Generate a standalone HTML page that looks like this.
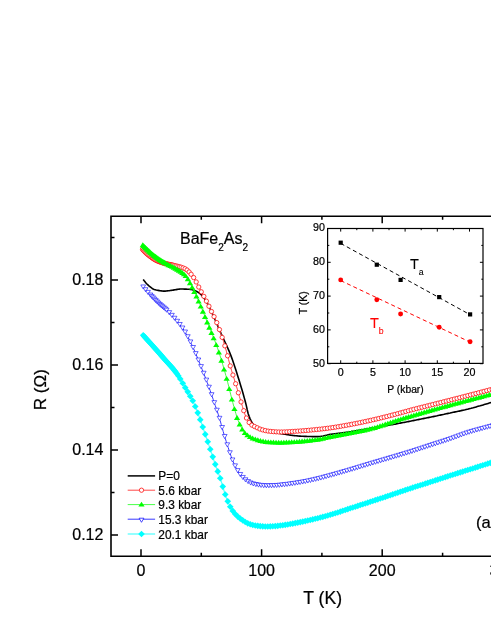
<!DOCTYPE html>
<html><head><meta charset="utf-8"><title>R(T) BaFe2As2</title>
<style>html,body{margin:0;padding:0;background:#fff;}body{width:491px;height:635px;overflow:hidden;position:relative;font-family:"Liberation Sans",sans-serif;}</style>
</head><body>
<svg width="491" height="635" viewBox="0 0 491 635" style="position:absolute;left:0;top:0;will-change:transform;">
<defs><clipPath id="c"><rect x="0" y="0" width="491" height="635"/></clipPath></defs>
<path d="M143.2,279.5 L144.2,280.8 L145.2,282.0 L146.2,283.2 L147.2,284.3 L148.2,285.2 L149.2,286.1 L150.2,286.9 L151.2,287.7 L152.2,288.5 L153.2,289.0 L154.2,289.4 L155.2,289.7 L156.2,290.0 L157.2,290.2 L158.2,290.4 L159.2,290.6 L160.2,290.8 L161.2,290.9 L162.2,291.0 L163.2,291.1 L164.2,291.1 L165.2,291.1 L166.2,291.0 L167.2,290.9 L168.2,290.8 L169.2,290.7 L170.2,290.5 L171.2,290.4 L172.2,290.3 L173.2,290.1 L174.2,289.9 L175.2,289.8 L176.2,289.6 L177.2,289.4 L178.2,289.2 L179.2,289.1 L180.2,289.0 L181.2,289.0 L182.2,289.0 L183.2,289.0 L184.2,289.1 L185.2,289.1 L186.2,289.1 L187.2,289.2 L188.2,289.3 L189.2,289.3 L190.2,289.4 L191.2,289.5 L192.2,289.7 L193.2,290.0 L194.2,290.3 L195.2,290.7 L196.2,291.2 L197.2,291.8 L198.2,292.4 L199.2,293.0 L200.2,293.8 L201.2,294.7 L202.2,295.9 L203.2,297.1 L204.2,298.4 L205.2,299.9 L206.2,301.5 L207.2,303.2 L208.2,305.0 L209.2,306.9 L210.2,309.0 L211.2,311.1 L212.2,313.3 L213.2,315.4 L214.2,317.6 L215.2,319.9 L216.2,322.2 L217.2,324.5 L218.2,326.9 L219.2,329.2 L220.2,331.6 L221.2,333.8 L222.2,336.1 L223.2,338.3 L224.2,340.4 L225.2,342.5 L226.2,344.7 L227.2,346.8 L228.2,349.1 L229.2,351.4 L230.2,353.8 L231.2,356.4 L232.2,359.1 L233.2,362.0 L234.2,364.9 L235.2,368.0 L236.2,371.1 L237.2,374.2 L238.2,377.4 L239.2,380.6 L240.2,383.9 L241.2,387.2 L242.2,390.5 L243.2,394.0 L244.2,397.6 L245.2,401.2 L246.2,405.1 L247.2,409.7 L248.2,413.8 L249.2,416.6 L250.2,419.1 L251.2,421.2 L252.2,423.0 L253.2,424.3 L254.2,425.3 L255.2,426.1 L256.2,426.8 L257.2,427.4 L258.2,427.9 L259.2,428.2 L260.2,428.5 L261.2,428.8 L262.2,429.1 L263.2,429.4 L264.2,429.7 L265.2,430.2 L266.2,430.6 L267.2,431.0 L268.2,431.3 L269.2,431.6 L270.2,431.8 L271.2,432.0 L272.2,432.1 L273.2,432.3 L274.2,432.5 L275.2,432.6 L276.2,432.8 L277.2,432.9 L278.2,433.1 L279.2,433.2 L280.2,433.4 L281.2,433.6 L282.2,433.8 L283.2,434.0 L284.2,434.1 L285.2,434.3 L286.2,434.5 L287.2,434.7 L288.2,434.8 L289.2,435.0 L290.2,435.1 L291.2,435.3 L292.2,435.4 L293.2,435.5 L294.2,435.6 L295.2,435.7 L296.2,435.8 L297.2,435.9 L298.2,436.0 L299.2,436.1 L300.2,436.1 L301.2,436.2 L302.2,436.3 L303.2,436.3 L304.2,436.4 L305.2,436.4 L306.2,436.4 L307.2,436.5 L308.2,436.5 L309.2,436.5 L310.2,436.5 L311.2,436.5 L312.2,436.6 L313.2,436.6 L314.2,436.6 L315.2,436.6 L316.2,436.6 L317.2,436.6 L318.2,436.6 L319.2,436.5 L320.2,436.5 L321.2,436.3 L322.2,436.2 L323.2,436.0 L324.2,435.7 L325.2,435.5 L326.2,435.3 L327.2,435.1 L328.2,434.8 L329.2,434.6 L330.2,434.4 L331.2,434.3 L332.2,434.1 L333.2,434.0 L334.2,433.8 L335.2,433.7 L336.2,433.6 L337.2,433.5 L338.2,433.3 L339.2,433.2 L340.2,433.1 L341.2,433.0 L342.2,432.8 L343.2,432.7 L344.2,432.6 L345.2,432.5 L346.2,432.3 L347.2,432.2 L348.2,432.0 L349.2,431.9 L350.2,431.7 L351.2,431.6 L352.2,431.4 L353.2,431.2 L354.2,431.1 L355.2,430.9 L356.2,430.7 L357.2,430.6 L358.2,430.4 L359.2,430.2 L360.2,430.0 L361.2,429.9 L362.2,429.7 L363.2,429.5 L364.2,429.4 L365.2,429.2 L366.2,429.0 L367.2,428.8 L368.2,428.7 L369.2,428.5 L370.2,428.3 L371.2,428.1 L372.2,428.0 L373.2,427.8 L374.2,427.6 L375.2,427.4 L376.2,427.3 L377.2,427.1 L378.2,426.9 L379.2,426.7 L380.2,426.6 L381.2,426.4 L382.2,426.2 L383.2,426.1 L384.2,425.9 L385.2,425.7 L386.2,425.6 L387.2,425.4 L388.2,425.3 L389.2,425.1 L390.2,424.9 L391.2,424.8 L392.2,424.6 L393.2,424.4 L394.2,424.2 L395.2,424.1 L396.2,423.9 L397.2,423.7 L398.2,423.5 L399.2,423.3 L400.2,423.1 L401.2,422.9 L402.2,422.7 L403.2,422.5 L404.2,422.4 L405.2,422.2 L406.2,422.0 L407.2,421.8 L408.2,421.6 L409.2,421.4 L410.2,421.2 L411.2,421.0 L412.2,420.8 L413.2,420.6 L414.2,420.4 L415.2,420.2 L416.2,420.0 L417.2,419.8 L418.2,419.6 L419.2,419.4 L420.2,419.2 L421.2,419.0 L422.2,418.8 L423.2,418.6 L424.2,418.4 L425.2,418.2 L426.2,418.0 L427.2,417.8 L428.2,417.6 L429.2,417.4 L430.2,417.2 L431.2,417.0 L432.2,416.8 L433.2,416.6 L434.2,416.4 L435.2,416.2 L436.2,416.0 L437.2,415.8 L438.2,415.5 L439.2,415.3 L440.2,415.1 L441.2,414.9 L442.2,414.7 L443.2,414.5 L444.2,414.3 L445.2,414.0 L446.2,413.8 L447.2,413.6 L448.2,413.4 L449.2,413.2 L450.2,413.0 L451.2,412.7 L452.2,412.5 L453.2,412.3 L454.2,412.1 L455.2,411.9 L456.2,411.7 L457.2,411.5 L458.2,411.3 L459.2,411.1 L460.2,410.9 L461.2,410.6 L462.2,410.4 L463.2,410.2 L464.2,410.0 L465.2,409.8 L466.2,409.5 L467.2,409.3 L468.2,409.1 L469.2,408.8 L470.2,408.5 L471.2,408.3 L472.2,408.0 L473.2,407.8 L474.2,407.5 L475.2,407.2 L476.2,406.9 L477.2,406.6 L478.2,406.3 L479.2,406.0 L480.2,405.8 L481.2,405.5 L482.2,405.2 L483.2,404.9 L484.2,404.6 L485.2,404.3 L486.2,404.0 L487.2,403.7 L488.2,403.4 L489.2,403.1 L490.2,402.8 L491.2,402.5 L492.2,402.3 L493.2,402.0 L494.2,401.7 L495.2,401.4 L496.2,401.1 L497.2,400.8 L498.2,400.6 L499.2,400.3 L500.2,400.0 L501.2,399.7 L502.2,399.4" fill="none" stroke="#000" stroke-width="1.6" stroke-linejoin="round"/>
<path d="M142.5,249.3 L143.5,250.4 L144.5,251.4 L145.5,252.4 L146.5,253.4 L147.5,254.3 L148.5,255.1 L149.5,255.9 L150.5,256.7 L151.5,257.4 L152.5,258.1 L153.5,258.8 L154.5,259.4 L155.5,260.0 L156.5,260.5 L157.5,260.9 L158.5,261.4 L159.5,261.8 L160.5,262.1 L161.5,262.5 L162.5,262.8 L163.5,263.1 L164.5,263.4 L165.5,263.6 L166.5,263.9 L167.5,264.1 L168.5,264.3 L169.5,264.5 L170.5,264.7 L171.5,264.9 L172.5,265.1 L173.5,265.3 L174.5,265.5 L175.5,265.8 L176.5,266.0 L177.5,266.3 L178.5,266.5 L179.5,266.8 L180.5,267.0 L181.5,267.3 L182.5,267.7 L183.5,268.0 L184.5,268.5 L185.5,269.0 L186.5,269.6 L187.5,270.4 L188.5,271.3 L189.5,272.4 L190.5,273.5 L191.5,274.8 L192.5,276.0 L193.5,277.3 L194.5,278.9 L195.5,280.6 L196.5,282.5 L197.5,284.5 L198.5,286.5 L199.5,288.5 L200.5,290.4 L201.5,292.2 L202.5,293.9 L203.5,295.7 L204.5,297.5 L205.5,299.4 L206.5,301.3 L207.5,303.3 L208.5,305.3 L209.5,307.4 L210.5,309.4 L211.5,311.5 L212.5,313.5 L213.5,315.5 L214.5,317.6 L215.5,319.7 L216.5,322.0 L217.5,324.5 L218.5,327.0 L219.5,329.7 L220.5,332.5 L221.5,335.4 L222.5,338.4 L223.5,341.5 L224.5,344.7 L225.5,348.1 L226.5,351.8 L227.5,355.6 L228.5,359.4 L229.5,363.2 L230.5,366.8 L231.5,370.2 L232.5,373.5 L233.5,376.8 L234.5,380.0 L235.5,383.3 L236.5,386.5 L237.5,389.9 L238.5,393.3 L239.5,396.7 L240.5,400.1 L241.5,403.4 L242.5,406.7 L243.5,409.9 L244.5,413.1 L245.5,416.0 L246.5,418.1 L247.5,419.9 L248.5,421.6 L249.5,423.0 L250.5,424.1 L251.5,424.9 L252.5,425.5 L253.5,426.0 L254.5,426.5 L255.5,426.9 L256.5,427.4 L257.5,427.9 L258.5,428.4 L259.5,428.8 L260.5,429.2 L261.5,429.5 L262.5,429.8 L263.5,430.1 L264.5,430.4 L265.5,430.6 L266.5,430.8 L267.5,431.0 L268.5,431.2 L269.5,431.3 L270.5,431.4 L271.5,431.5 L272.5,431.6 L273.5,431.7 L274.5,431.7 L275.5,431.8 L276.5,431.9 L277.5,431.9 L278.5,432.0 L279.5,432.0 L280.5,432.0 L281.5,432.0 L282.5,432.0 L283.5,432.0 L284.5,431.9 L285.5,431.9 L286.5,431.8 L287.5,431.8 L288.5,431.7 L289.5,431.7 L290.5,431.6 L291.5,431.5 L292.5,431.5 L293.5,431.4 L294.5,431.3 L295.5,431.3 L296.5,431.2 L297.5,431.1 L298.5,431.1 L299.5,431.0 L300.5,430.9 L301.5,430.9 L302.5,430.8 L303.5,430.7 L304.5,430.6 L305.5,430.5 L306.5,430.5 L307.5,430.4 L308.5,430.3 L309.5,430.2 L310.5,430.1 L311.5,430.0 L312.5,429.9 L313.5,429.8 L314.5,429.7 L315.5,429.6 L316.5,429.5 L317.5,429.4 L318.5,429.3 L319.5,429.2 L320.5,429.1 L321.5,429.0 L322.5,428.9 L323.5,428.8 L324.5,428.7 L325.5,428.5 L326.5,428.4 L327.5,428.3 L328.5,428.1 L329.5,428.0 L330.5,427.9 L331.5,427.7 L332.5,427.6 L333.5,427.4 L334.5,427.3 L335.5,427.1 L336.5,427.0 L337.5,426.8 L338.5,426.6 L339.5,426.5 L340.5,426.3 L341.5,426.1 L342.5,426.0 L343.5,425.8 L344.5,425.6 L345.5,425.4 L346.5,425.2 L347.5,425.1 L348.5,424.9 L349.5,424.7 L350.5,424.5 L351.5,424.3 L352.5,424.1 L353.5,423.9 L354.5,423.7 L355.5,423.5 L356.5,423.3 L357.5,423.1 L358.5,422.9 L359.5,422.7 L360.5,422.5 L361.5,422.3 L362.5,422.1 L363.5,421.9 L364.5,421.7 L365.5,421.5 L366.5,421.3 L367.5,421.0 L368.5,420.8 L369.5,420.6 L370.5,420.4 L371.5,420.1 L372.5,419.9 L373.5,419.7 L374.5,419.5 L375.5,419.2 L376.5,419.0 L377.5,418.8 L378.5,418.5 L379.5,418.3 L380.5,418.0 L381.5,417.8 L382.5,417.5 L383.5,417.3 L384.5,417.0 L385.5,416.8 L386.5,416.5 L387.5,416.3 L388.5,416.0 L389.5,415.8 L390.5,415.5 L391.5,415.3 L392.5,415.0 L393.5,414.7 L394.5,414.5 L395.5,414.2 L396.5,414.0 L397.5,413.7 L398.5,413.4 L399.5,413.2 L400.5,412.9 L401.5,412.6 L402.5,412.3 L403.5,412.0 L404.5,411.8 L405.5,411.5 L406.5,411.2 L407.5,410.9 L408.5,410.7 L409.5,410.4 L410.5,410.1 L411.5,409.9 L412.5,409.6 L413.5,409.4 L414.5,409.1 L415.5,408.8 L416.5,408.6 L417.5,408.3 L418.5,408.1 L419.5,407.8 L420.5,407.6 L421.5,407.3 L422.5,407.1 L423.5,406.8 L424.5,406.6 L425.5,406.3 L426.5,406.1 L427.5,405.8 L428.5,405.6 L429.5,405.3 L430.5,405.1 L431.5,404.8 L432.5,404.6 L433.5,404.3 L434.5,404.1 L435.5,403.8 L436.5,403.6 L437.5,403.3 L438.5,403.0 L439.5,402.8 L440.5,402.5 L441.5,402.3 L442.5,402.0 L443.5,401.8 L444.5,401.5 L445.5,401.3 L446.5,401.0 L447.5,400.8 L448.5,400.5 L449.5,400.3 L450.5,400.0 L451.5,399.8 L452.5,399.5 L453.5,399.2 L454.5,399.0 L455.5,398.7 L456.5,398.5 L457.5,398.2 L458.5,398.0 L459.5,397.7 L460.5,397.5 L461.5,397.2 L462.5,396.9 L463.5,396.7 L464.5,396.4 L465.5,396.2 L466.5,395.9 L467.5,395.6 L468.5,395.4 L469.5,395.1 L470.5,394.9 L471.5,394.6 L472.5,394.4 L473.5,394.1 L474.5,393.8 L475.5,393.6 L476.5,393.3 L477.5,393.0 L478.5,392.8 L479.5,392.5 L480.5,392.3 L481.5,392.0 L482.5,391.7 L483.5,391.5 L484.5,391.2 L485.5,390.9 L486.5,390.7 L487.5,390.4 L488.5,390.2 L489.5,389.9 L490.5,389.6 L491.5,389.4 L492.5,389.1 L493.5,388.8 L494.5,388.6 L495.5,388.3 L496.5,388.0 L497.5,387.8 L498.5,387.5 L499.5,387.2 L500.5,387.0 L501.5,386.7 L502.5,386.4" fill="none" stroke="#ff4848" stroke-width="1.0"/>
<g fill="#fff" stroke="#ff0000" stroke-width="0.75"><circle cx="142.50" cy="249.30" r="2.15"/><circle cx="143.40" cy="250.27" r="2.15"/><circle cx="144.30" cy="251.20" r="2.15"/><circle cx="145.20" cy="252.11" r="2.15"/><circle cx="146.10" cy="252.98" r="2.15"/><circle cx="147.00" cy="253.81" r="2.15"/><circle cx="147.90" cy="254.60" r="2.15"/><circle cx="148.80" cy="255.34" r="2.15"/><circle cx="149.70" cy="256.05" r="2.15"/><circle cx="150.60" cy="256.74" r="2.15"/><circle cx="151.50" cy="257.41" r="2.15"/><circle cx="152.40" cy="258.06" r="2.15"/><circle cx="153.30" cy="258.67" r="2.15"/><circle cx="154.20" cy="259.25" r="2.15"/><circle cx="155.10" cy="259.78" r="2.15"/><circle cx="156.00" cy="260.26" r="2.15"/><circle cx="156.90" cy="260.68" r="2.15"/><circle cx="157.80" cy="261.08" r="2.15"/><circle cx="158.70" cy="261.45" r="2.15"/><circle cx="159.60" cy="261.79" r="2.15"/><circle cx="160.50" cy="262.12" r="2.15"/><circle cx="161.40" cy="262.43" r="2.15"/><circle cx="162.30" cy="262.72" r="2.15"/><circle cx="163.20" cy="262.99" r="2.15"/><circle cx="164.10" cy="263.25" r="2.15"/><circle cx="165.00" cy="263.50" r="2.15"/><circle cx="165.90" cy="263.73" r="2.15"/><circle cx="166.80" cy="263.94" r="2.15"/><circle cx="167.70" cy="264.14" r="2.15"/><circle cx="168.60" cy="264.32" r="2.15"/><circle cx="169.50" cy="264.49" r="2.15"/><circle cx="170.40" cy="264.67" r="2.15"/><circle cx="171.30" cy="264.84" r="2.15"/><circle cx="172.20" cy="265.02" r="2.15"/><circle cx="173.10" cy="265.21" r="2.15"/><circle cx="174.70" cy="265.58" r="2.15"/><circle cx="176.30" cy="265.97" r="2.15"/><circle cx="177.90" cy="266.35" r="2.15"/><circle cx="179.50" cy="266.76" r="2.15"/><circle cx="181.10" cy="267.21" r="2.15"/><circle cx="183.10" cy="267.89" r="2.15"/><circle cx="185.10" cy="268.75" r="2.15"/><circle cx="187.10" cy="270.07" r="2.15"/><circle cx="189.10" cy="271.97" r="2.15"/><circle cx="191.10" cy="274.26" r="2.15"/><circle cx="193.65" cy="277.56" r="2.15"/><circle cx="196.20" cy="281.96" r="2.15"/><circle cx="198.75" cy="287.03" r="2.15"/><circle cx="201.30" cy="291.80" r="2.15"/><circle cx="203.85" cy="296.34" r="2.15"/><circle cx="206.40" cy="301.13" r="2.15"/><circle cx="208.95" cy="306.25" r="2.15"/><circle cx="211.50" cy="311.50" r="2.15"/><circle cx="214.05" cy="316.65" r="2.15"/><circle cx="216.75" cy="322.60" r="2.15"/><circle cx="219.45" cy="329.58" r="2.15"/><circle cx="222.15" cy="337.37" r="2.15"/><circle cx="224.85" cy="345.88" r="2.15"/><circle cx="227.55" cy="355.79" r="2.15"/><circle cx="230.25" cy="365.92" r="2.15"/><circle cx="232.95" cy="375.01" r="2.15"/><circle cx="235.65" cy="383.75" r="2.15"/><circle cx="238.35" cy="392.77" r="2.15"/><circle cx="241.05" cy="401.93" r="2.15"/><circle cx="243.75" cy="410.68" r="2.15"/><circle cx="246.45" cy="418.00" r="2.15"/><circle cx="249.15" cy="422.51" r="2.15"/><circle cx="251.85" cy="425.09" r="2.15"/><circle cx="254.55" cy="426.52" r="2.15"/><circle cx="257.25" cy="427.77" r="2.15"/><circle cx="259.95" cy="429.03" r="2.15"/><circle cx="262.65" cy="429.89" r="2.15"/><circle cx="265.35" cy="430.59" r="2.15"/><circle cx="268.05" cy="431.09" r="2.15"/><circle cx="270.75" cy="431.40" r="2.15"/><circle cx="273.45" cy="431.66" r="2.15"/><circle cx="276.15" cy="431.86" r="2.15"/><circle cx="278.85" cy="431.98" r="2.15"/><circle cx="281.55" cy="431.99" r="2.15"/><circle cx="284.25" cy="431.93" r="2.15"/><circle cx="286.95" cy="431.80" r="2.15"/><circle cx="289.65" cy="431.64" r="2.15"/><circle cx="292.35" cy="431.47" r="2.15"/><circle cx="295.05" cy="431.30" r="2.15"/><circle cx="297.75" cy="431.13" r="2.15"/><circle cx="300.45" cy="430.94" r="2.15"/><circle cx="303.15" cy="430.73" r="2.15"/><circle cx="305.85" cy="430.51" r="2.15"/><circle cx="308.55" cy="430.28" r="2.15"/><circle cx="311.25" cy="430.03" r="2.15"/><circle cx="313.95" cy="429.78" r="2.15"/><circle cx="316.65" cy="429.51" r="2.15"/><circle cx="319.35" cy="429.24" r="2.15"/><circle cx="322.05" cy="428.94" r="2.15"/><circle cx="324.75" cy="428.62" r="2.15"/><circle cx="327.45" cy="428.28" r="2.15"/><circle cx="330.15" cy="427.92" r="2.15"/><circle cx="332.85" cy="427.53" r="2.15"/><circle cx="335.55" cy="427.12" r="2.15"/><circle cx="338.25" cy="426.69" r="2.15"/><circle cx="340.95" cy="426.23" r="2.15"/><circle cx="343.65" cy="425.76" r="2.15"/><circle cx="346.35" cy="425.27" r="2.15"/><circle cx="349.05" cy="424.78" r="2.15"/><circle cx="351.75" cy="424.27" r="2.15"/><circle cx="354.45" cy="423.75" r="2.15"/><circle cx="357.15" cy="423.22" r="2.15"/><circle cx="359.85" cy="422.67" r="2.15"/><circle cx="362.55" cy="422.10" r="2.15"/><circle cx="365.25" cy="421.52" r="2.15"/><circle cx="367.95" cy="420.93" r="2.15"/><circle cx="370.65" cy="420.34" r="2.15"/><circle cx="373.35" cy="419.73" r="2.15"/><circle cx="376.05" cy="419.10" r="2.15"/><circle cx="378.75" cy="418.46" r="2.15"/><circle cx="381.45" cy="417.80" r="2.15"/><circle cx="384.15" cy="417.13" r="2.15"/><circle cx="386.85" cy="416.45" r="2.15"/><circle cx="389.55" cy="415.76" r="2.15"/><circle cx="392.25" cy="415.07" r="2.15"/><circle cx="394.95" cy="414.37" r="2.15"/><circle cx="397.65" cy="413.66" r="2.15"/><circle cx="400.35" cy="412.92" r="2.15"/><circle cx="403.05" cy="412.17" r="2.15"/><circle cx="405.75" cy="411.42" r="2.15"/><circle cx="408.45" cy="410.68" r="2.15"/><circle cx="411.15" cy="409.96" r="2.15"/><circle cx="413.85" cy="409.26" r="2.15"/><circle cx="416.55" cy="408.57" r="2.15"/><circle cx="419.25" cy="407.89" r="2.15"/><circle cx="421.95" cy="407.22" r="2.15"/><circle cx="424.65" cy="406.54" r="2.15"/><circle cx="427.35" cy="405.87" r="2.15"/><circle cx="430.05" cy="405.18" r="2.15"/><circle cx="432.75" cy="404.50" r="2.15"/><circle cx="435.45" cy="403.82" r="2.15"/><circle cx="438.15" cy="403.13" r="2.15"/><circle cx="440.85" cy="402.45" r="2.15"/><circle cx="443.55" cy="401.77" r="2.15"/><circle cx="446.25" cy="401.09" r="2.15"/><circle cx="448.95" cy="400.40" r="2.15"/><circle cx="451.65" cy="399.72" r="2.15"/><circle cx="454.35" cy="399.03" r="2.15"/><circle cx="457.05" cy="398.34" r="2.15"/><circle cx="459.75" cy="397.65" r="2.15"/><circle cx="462.45" cy="396.95" r="2.15"/><circle cx="465.15" cy="396.26" r="2.15"/><circle cx="467.85" cy="395.56" r="2.15"/><circle cx="470.55" cy="394.86" r="2.15"/><circle cx="473.25" cy="394.16" r="2.15"/><circle cx="475.95" cy="393.45" r="2.15"/><circle cx="478.65" cy="392.75" r="2.15"/><circle cx="481.35" cy="392.04" r="2.15"/><circle cx="484.05" cy="391.33" r="2.15"/><circle cx="486.75" cy="390.62" r="2.15"/><circle cx="489.45" cy="389.91" r="2.15"/><circle cx="492.15" cy="389.20" r="2.15"/><circle cx="494.85" cy="388.48" r="2.15"/><circle cx="497.55" cy="387.76" r="2.15"/><circle cx="500.25" cy="387.04" r="2.15"/><circle cx="502.95" cy="386.31" r="2.15"/></g>
<path d="M142.8,244.7 L143.8,245.8 L144.8,246.8 L145.8,247.8 L146.8,248.8 L147.8,249.8 L148.8,250.7 L149.8,251.6 L150.8,252.5 L151.8,253.4 L152.8,254.2 L153.8,255.1 L154.8,255.8 L155.8,256.6 L156.8,257.3 L157.8,258.0 L158.8,258.7 L159.8,259.4 L160.8,260.0 L161.8,260.7 L162.8,261.3 L163.8,261.9 L164.8,262.5 L165.8,263.1 L166.8,263.7 L167.8,264.2 L168.8,264.7 L169.8,265.3 L170.8,265.8 L171.8,266.2 L172.8,266.7 L173.8,267.3 L174.8,267.8 L175.8,268.4 L176.8,269.0 L177.8,269.6 L178.8,270.1 L179.8,270.7 L180.8,271.4 L181.8,272.1 L182.8,272.8 L183.8,273.7 L184.8,274.6 L185.8,275.7 L186.8,277.1 L187.8,278.7 L188.8,280.5 L189.8,282.4 L190.8,284.4 L191.8,286.4 L192.8,288.4 L193.8,290.4 L194.8,292.5 L195.8,294.7 L196.8,296.9 L197.8,299.2 L198.8,301.5 L199.8,303.9 L200.8,306.2 L201.8,308.6 L202.8,311.0 L203.8,313.5 L204.8,316.0 L205.8,318.5 L206.8,321.0 L207.8,323.4 L208.8,325.9 L209.8,328.3 L210.8,330.8 L211.8,333.3 L212.8,335.8 L213.8,338.3 L214.8,340.8 L215.8,343.4 L216.8,346.1 L217.8,348.9 L218.8,351.9 L219.8,354.9 L220.8,358.1 L221.8,361.4 L222.8,364.8 L223.8,368.2 L224.8,371.7 L225.8,375.3 L226.8,378.9 L227.8,382.8 L228.8,386.8 L229.8,390.9 L230.8,394.9 L231.8,398.9 L232.8,402.7 L233.8,406.4 L234.8,409.9 L235.8,413.4 L236.8,416.8 L237.8,419.7 L238.8,422.2 L239.8,424.4 L240.8,426.4 L241.8,428.3 L242.8,430.0 L243.8,431.4 L244.8,432.6 L245.8,433.5 L246.8,434.4 L247.8,435.2 L248.8,435.9 L249.8,436.5 L250.8,437.1 L251.8,437.6 L252.8,438.0 L253.8,438.4 L254.8,438.8 L255.8,439.1 L256.8,439.4 L257.8,439.7 L258.8,440.0 L259.8,440.3 L260.8,440.5 L261.8,440.8 L262.8,441.0 L263.8,441.2 L264.8,441.3 L265.8,441.5 L266.8,441.6 L267.8,441.7 L268.8,441.8 L269.8,441.9 L270.8,441.9 L271.8,442.0 L272.8,442.0 L273.8,442.1 L274.8,442.1 L275.8,442.1 L276.8,442.2 L277.8,442.2 L278.8,442.2 L279.8,442.2 L280.8,442.2 L281.8,442.2 L282.8,442.2 L283.8,442.1 L284.8,442.1 L285.8,442.1 L286.8,442.0 L287.8,442.0 L288.8,441.9 L289.8,441.9 L290.8,441.8 L291.8,441.8 L292.8,441.7 L293.8,441.7 L294.8,441.6 L295.8,441.6 L296.8,441.5 L297.8,441.4 L298.8,441.3 L299.8,441.3 L300.8,441.2 L301.8,441.1 L302.8,441.0 L303.8,440.9 L304.8,440.8 L305.8,440.7 L306.8,440.6 L307.8,440.5 L308.8,440.4 L309.8,440.3 L310.8,440.1 L311.8,440.0 L312.8,439.9 L313.8,439.7 L314.8,439.6 L315.8,439.5 L316.8,439.3 L317.8,439.2 L318.8,439.0 L319.8,438.9 L320.8,438.7 L321.8,438.5 L322.8,438.3 L323.8,438.0 L324.8,437.8 L325.8,437.6 L326.8,437.3 L327.8,437.1 L328.8,436.9 L329.8,436.7 L330.8,436.4 L331.8,436.2 L332.8,436.0 L333.8,435.8 L334.8,435.7 L335.8,435.5 L336.8,435.3 L337.8,435.1 L338.8,434.9 L339.8,434.7 L340.8,434.5 L341.8,434.4 L342.8,434.2 L343.8,434.0 L344.8,433.8 L345.8,433.6 L346.8,433.4 L347.8,433.2 L348.8,433.0 L349.8,432.8 L350.8,432.6 L351.8,432.4 L352.8,432.3 L353.8,432.1 L354.8,431.9 L355.8,431.7 L356.8,431.5 L357.8,431.3 L358.8,431.1 L359.8,430.9 L360.8,430.7 L361.8,430.5 L362.8,430.3 L363.8,430.1 L364.8,429.9 L365.8,429.7 L366.8,429.5 L367.8,429.2 L368.8,429.0 L369.8,428.8 L370.8,428.5 L371.8,428.3 L372.8,428.0 L373.8,427.7 L374.8,427.5 L375.8,427.2 L376.8,426.9 L377.8,426.5 L378.8,426.2 L379.8,425.9 L380.8,425.6 L381.8,425.2 L382.8,424.9 L383.8,424.5 L384.8,424.2 L385.8,423.8 L386.8,423.5 L387.8,423.1 L388.8,422.8 L389.8,422.4 L390.8,422.1 L391.8,421.7 L392.8,421.4 L393.8,421.1 L394.8,420.8 L395.8,420.4 L396.8,420.1 L397.8,419.8 L398.8,419.5 L399.8,419.2 L400.8,418.9 L401.8,418.6 L402.8,418.3 L403.8,418.0 L404.8,417.7 L405.8,417.4 L406.8,417.1 L407.8,416.8 L408.8,416.5 L409.8,416.2 L410.8,415.9 L411.8,415.6 L412.8,415.3 L413.8,415.0 L414.8,414.7 L415.8,414.4 L416.8,414.1 L417.8,413.8 L418.8,413.5 L419.8,413.2 L420.8,413.0 L421.8,412.7 L422.8,412.4 L423.8,412.1 L424.8,411.8 L425.8,411.5 L426.8,411.2 L427.8,411.0 L428.8,410.7 L429.8,410.4 L430.8,410.1 L431.8,409.9 L432.8,409.6 L433.8,409.3 L434.8,409.0 L435.8,408.7 L436.8,408.5 L437.8,408.2 L438.8,407.9 L439.8,407.6 L440.8,407.4 L441.8,407.1 L442.8,406.8 L443.8,406.6 L444.8,406.3 L445.8,406.0 L446.8,405.7 L447.8,405.5 L448.8,405.2 L449.8,404.9 L450.8,404.7 L451.8,404.4 L452.8,404.1 L453.8,403.9 L454.8,403.6 L455.8,403.3 L456.8,403.1 L457.8,402.8 L458.8,402.5 L459.8,402.2 L460.8,402.0 L461.8,401.7 L462.8,401.4 L463.8,401.2 L464.8,400.9 L465.8,400.6 L466.8,400.4 L467.8,400.1 L468.8,399.9 L469.8,399.6 L470.8,399.3 L471.8,399.1 L472.8,398.8 L473.8,398.5 L474.8,398.3 L475.8,398.0 L476.8,397.7 L477.8,397.5 L478.8,397.2 L479.8,397.0 L480.8,396.7 L481.8,396.4 L482.8,396.2 L483.8,395.9 L484.8,395.6 L485.8,395.4 L486.8,395.1 L487.8,394.8 L488.8,394.6 L489.8,394.3 L490.8,394.1 L491.8,393.8 L492.8,393.5 L493.8,393.3 L494.8,393.0 L495.8,392.7 L496.8,392.5 L497.8,392.2 L498.8,391.9 L499.8,391.7 L500.8,391.4 L501.8,391.1 L502.8,390.9" fill="none" stroke="#48ff48" stroke-width="1.0"/>
<g fill="#00ff00" stroke="none"><path d="M142.80,242.25 l3.10,4.90 h-6.20 z"/><path d="M143.70,243.20 l3.10,4.90 h-6.20 z"/><path d="M144.60,244.14 l3.10,4.90 h-6.20 z"/><path d="M145.50,245.06 l3.10,4.90 h-6.20 z"/><path d="M146.40,245.96 l3.10,4.90 h-6.20 z"/><path d="M147.30,246.84 l3.10,4.90 h-6.20 z"/><path d="M148.20,247.71 l3.10,4.90 h-6.20 z"/><path d="M149.10,248.55 l3.10,4.90 h-6.20 z"/><path d="M150.00,249.37 l3.10,4.90 h-6.20 z"/><path d="M150.90,250.18 l3.10,4.90 h-6.20 z"/><path d="M151.80,250.96 l3.10,4.90 h-6.20 z"/><path d="M152.70,251.72 l3.10,4.90 h-6.20 z"/><path d="M153.60,252.45 l3.10,4.90 h-6.20 z"/><path d="M154.50,253.16 l3.10,4.90 h-6.20 z"/><path d="M155.40,253.85 l3.10,4.90 h-6.20 z"/><path d="M156.30,254.52 l3.10,4.90 h-6.20 z"/><path d="M157.20,255.17 l3.10,4.90 h-6.20 z"/><path d="M158.10,255.80 l3.10,4.90 h-6.20 z"/><path d="M159.00,256.41 l3.10,4.90 h-6.20 z"/><path d="M159.90,257.00 l3.10,4.90 h-6.20 z"/><path d="M160.80,257.59 l3.10,4.90 h-6.20 z"/><path d="M161.70,258.16 l3.10,4.90 h-6.20 z"/><path d="M162.60,258.71 l3.10,4.90 h-6.20 z"/><path d="M163.50,259.26 l3.10,4.90 h-6.20 z"/><path d="M164.40,259.80 l3.10,4.90 h-6.20 z"/><path d="M165.30,260.33 l3.10,4.90 h-6.20 z"/><path d="M167.00,261.32 l3.10,4.90 h-6.20 z"/><path d="M168.70,262.24 l3.10,4.90 h-6.20 z"/><path d="M170.40,263.10 l3.10,4.90 h-6.20 z"/><path d="M172.10,263.95 l3.10,4.90 h-6.20 z"/><path d="M173.80,264.82 l3.10,4.90 h-6.20 z"/><path d="M175.50,265.75 l3.10,4.90 h-6.20 z"/><path d="M177.20,266.76 l3.10,4.90 h-6.20 z"/><path d="M178.90,267.75 l3.10,4.90 h-6.20 z"/><path d="M180.60,268.81 l3.10,4.90 h-6.20 z"/><path d="M182.30,270.00 l3.10,4.90 h-6.20 z"/><path d="M184.00,271.40 l3.10,4.90 h-6.20 z"/><path d="M185.70,273.13 l3.10,4.90 h-6.20 z"/><path d="M187.85,276.31 l3.10,4.90 h-6.20 z"/><path d="M190.00,280.32 l3.10,4.90 h-6.20 z"/><path d="M192.15,284.65 l3.10,4.90 h-6.20 z"/><path d="M194.30,288.98 l3.10,4.90 h-6.20 z"/><path d="M196.45,293.65 l3.10,4.90 h-6.20 z"/><path d="M198.60,298.59 l3.10,4.90 h-6.20 z"/><path d="M200.75,303.65 l3.10,4.90 h-6.20 z"/><path d="M202.90,308.82 l3.10,4.90 h-6.20 z"/><path d="M205.05,314.19 l3.10,4.90 h-6.20 z"/><path d="M207.20,319.53 l3.10,4.90 h-6.20 z"/><path d="M209.35,324.75 l3.10,4.90 h-6.20 z"/><path d="M211.50,330.09 l3.10,4.90 h-6.20 z"/><path d="M213.65,335.43 l3.10,4.90 h-6.20 z"/><path d="M216.25,342.16 l3.10,4.90 h-6.20 z"/><path d="M218.85,349.57 l3.10,4.90 h-6.20 z"/><path d="M221.45,357.80 l3.10,4.90 h-6.20 z"/><path d="M224.05,366.64 l3.10,4.90 h-6.20 z"/><path d="M226.65,375.93 l3.10,4.90 h-6.20 z"/><path d="M229.25,386.18 l3.10,4.90 h-6.20 z"/><path d="M231.85,396.65 l3.10,4.90 h-6.20 z"/><path d="M234.45,406.21 l3.10,4.90 h-6.20 z"/><path d="M237.05,415.11 l3.10,4.90 h-6.20 z"/><path d="M239.65,421.61 l3.10,4.90 h-6.20 z"/><path d="M242.25,426.66 l3.10,4.90 h-6.20 z"/><path d="M244.85,430.20 l3.10,4.90 h-6.20 z"/><path d="M247.45,432.46 l3.10,4.90 h-6.20 z"/><path d="M250.05,434.22 l3.10,4.90 h-6.20 z"/><path d="M252.65,435.53 l3.10,4.90 h-6.20 z"/><path d="M255.25,436.47 l3.10,4.90 h-6.20 z"/><path d="M257.85,437.28 l3.10,4.90 h-6.20 z"/><path d="M260.45,437.98 l3.10,4.90 h-6.20 z"/><path d="M263.05,438.57 l3.10,4.90 h-6.20 z"/><path d="M265.65,439.02 l3.10,4.90 h-6.20 z"/><path d="M268.25,439.31 l3.10,4.90 h-6.20 z"/><path d="M270.85,439.46 l3.10,4.90 h-6.20 z"/><path d="M273.45,439.59 l3.10,4.90 h-6.20 z"/><path d="M276.05,439.69 l3.10,4.90 h-6.20 z"/><path d="M278.65,439.74 l3.10,4.90 h-6.20 z"/><path d="M281.25,439.74 l3.10,4.90 h-6.20 z"/><path d="M283.85,439.69 l3.10,4.90 h-6.20 z"/><path d="M286.45,439.60 l3.10,4.90 h-6.20 z"/><path d="M289.05,439.47 l3.10,4.90 h-6.20 z"/><path d="M291.65,439.34 l3.10,4.90 h-6.20 z"/><path d="M294.25,439.20 l3.10,4.90 h-6.20 z"/><path d="M296.85,439.03 l3.10,4.90 h-6.20 z"/><path d="M299.45,438.84 l3.10,4.90 h-6.20 z"/><path d="M302.05,438.62 l3.10,4.90 h-6.20 z"/><path d="M304.65,438.37 l3.10,4.90 h-6.20 z"/><path d="M307.25,438.09 l3.10,4.90 h-6.20 z"/><path d="M309.85,437.80 l3.10,4.90 h-6.20 z"/><path d="M312.45,437.47 l3.10,4.90 h-6.20 z"/><path d="M315.05,437.13 l3.10,4.90 h-6.20 z"/><path d="M317.65,436.77 l3.10,4.90 h-6.20 z"/><path d="M320.25,436.34 l3.10,4.90 h-6.20 z"/><path d="M322.85,435.80 l3.10,4.90 h-6.20 z"/><path d="M325.45,435.20 l3.10,4.90 h-6.20 z"/><path d="M328.05,434.59 l3.10,4.90 h-6.20 z"/><path d="M330.65,434.02 l3.10,4.90 h-6.20 z"/><path d="M333.25,433.51 l3.10,4.90 h-6.20 z"/><path d="M335.85,433.01 l3.10,4.90 h-6.20 z"/><path d="M338.45,432.52 l3.10,4.90 h-6.20 z"/><path d="M341.05,432.04 l3.10,4.90 h-6.20 z"/><path d="M343.65,431.56 l3.10,4.90 h-6.20 z"/><path d="M346.25,431.07 l3.10,4.90 h-6.20 z"/><path d="M348.85,430.58 l3.10,4.90 h-6.20 z"/><path d="M351.45,430.07 l3.10,4.90 h-6.20 z"/><path d="M354.05,429.56 l3.10,4.90 h-6.20 z"/><path d="M356.65,429.07 l3.10,4.90 h-6.20 z"/><path d="M359.25,428.56 l3.10,4.90 h-6.20 z"/><path d="M361.85,428.05 l3.10,4.90 h-6.20 z"/><path d="M364.45,427.51 l3.10,4.90 h-6.20 z"/><path d="M367.05,426.95 l3.10,4.90 h-6.20 z"/><path d="M369.65,426.35 l3.10,4.90 h-6.20 z"/><path d="M372.25,425.71 l3.10,4.90 h-6.20 z"/><path d="M374.85,424.99 l3.10,4.90 h-6.20 z"/><path d="M377.45,424.21 l3.10,4.90 h-6.20 z"/><path d="M380.05,423.36 l3.10,4.90 h-6.20 z"/><path d="M382.65,422.48 l3.10,4.90 h-6.20 z"/><path d="M385.25,421.58 l3.10,4.90 h-6.20 z"/><path d="M387.85,420.66 l3.10,4.90 h-6.20 z"/><path d="M390.45,419.76 l3.10,4.90 h-6.20 z"/><path d="M393.05,418.88 l3.10,4.90 h-6.20 z"/><path d="M395.65,418.03 l3.10,4.90 h-6.20 z"/><path d="M398.25,417.22 l3.10,4.90 h-6.20 z"/><path d="M400.85,416.42 l3.10,4.90 h-6.20 z"/><path d="M403.45,415.62 l3.10,4.90 h-6.20 z"/><path d="M406.05,414.83 l3.10,4.90 h-6.20 z"/><path d="M408.65,414.05 l3.10,4.90 h-6.20 z"/><path d="M411.25,413.28 l3.10,4.90 h-6.20 z"/><path d="M413.85,412.51 l3.10,4.90 h-6.20 z"/><path d="M416.45,411.75 l3.10,4.90 h-6.20 z"/><path d="M419.05,411.00 l3.10,4.90 h-6.20 z"/><path d="M421.65,410.26 l3.10,4.90 h-6.20 z"/><path d="M424.25,409.52 l3.10,4.90 h-6.20 z"/><path d="M426.85,408.79 l3.10,4.90 h-6.20 z"/><path d="M429.45,408.06 l3.10,4.90 h-6.20 z"/><path d="M432.05,407.33 l3.10,4.90 h-6.20 z"/><path d="M434.65,406.61 l3.10,4.90 h-6.20 z"/><path d="M437.25,405.90 l3.10,4.90 h-6.20 z"/><path d="M439.85,405.18 l3.10,4.90 h-6.20 z"/><path d="M442.45,404.47 l3.10,4.90 h-6.20 z"/><path d="M445.05,403.77 l3.10,4.90 h-6.20 z"/><path d="M447.65,403.07 l3.10,4.90 h-6.20 z"/><path d="M450.25,402.36 l3.10,4.90 h-6.20 z"/><path d="M452.85,401.66 l3.10,4.90 h-6.20 z"/><path d="M455.45,400.97 l3.10,4.90 h-6.20 z"/><path d="M458.05,400.27 l3.10,4.90 h-6.20 z"/><path d="M460.65,399.57 l3.10,4.90 h-6.20 z"/><path d="M463.25,398.87 l3.10,4.90 h-6.20 z"/><path d="M465.85,398.18 l3.10,4.90 h-6.20 z"/><path d="M468.45,397.49 l3.10,4.90 h-6.20 z"/><path d="M471.05,396.81 l3.10,4.90 h-6.20 z"/><path d="M473.65,396.12 l3.10,4.90 h-6.20 z"/><path d="M476.25,395.44 l3.10,4.90 h-6.20 z"/><path d="M478.85,394.75 l3.10,4.90 h-6.20 z"/><path d="M481.45,394.07 l3.10,4.90 h-6.20 z"/><path d="M484.05,393.39 l3.10,4.90 h-6.20 z"/><path d="M486.65,392.70 l3.10,4.90 h-6.20 z"/><path d="M489.25,392.01 l3.10,4.90 h-6.20 z"/><path d="M491.85,391.32 l3.10,4.90 h-6.20 z"/><path d="M494.45,390.63 l3.10,4.90 h-6.20 z"/><path d="M497.05,389.94 l3.10,4.90 h-6.20 z"/><path d="M499.65,389.25 l3.10,4.90 h-6.20 z"/><path d="M502.25,388.55 l3.10,4.90 h-6.20 z"/></g>
<path d="M143.2,287.0 L144.2,288.2 L145.2,289.3 L146.2,290.4 L147.2,291.6 L148.2,292.7 L149.2,293.8 L150.2,294.8 L151.2,295.9 L152.2,296.9 L153.2,298.0 L154.2,299.0 L155.2,300.0 L156.2,301.0 L157.2,302.0 L158.2,303.0 L159.2,303.9 L160.2,304.8 L161.2,305.7 L162.2,306.5 L163.2,307.3 L164.2,308.2 L165.2,309.0 L166.2,309.8 L167.2,310.7 L168.2,311.7 L169.2,312.6 L170.2,313.6 L171.2,314.7 L172.2,315.7 L173.2,316.8 L174.2,317.9 L175.2,319.0 L176.2,320.2 L177.2,321.3 L178.2,322.5 L179.2,323.7 L180.2,325.0 L181.2,326.3 L182.2,327.6 L183.2,329.1 L184.2,330.6 L185.2,332.2 L186.2,333.9 L187.2,335.7 L188.2,337.5 L189.2,339.5 L190.2,341.5 L191.2,343.5 L192.2,345.6 L193.2,347.8 L194.2,350.0 L195.2,352.3 L196.2,354.7 L197.2,357.1 L198.2,359.6 L199.2,362.0 L200.2,364.5 L201.2,367.0 L202.2,369.5 L203.2,372.0 L204.2,374.6 L205.2,377.1 L206.2,379.8 L207.2,382.4 L208.2,385.1 L209.2,387.8 L210.2,390.6 L211.2,393.4 L212.2,396.4 L213.2,399.4 L214.2,402.4 L215.2,405.3 L216.2,408.2 L217.2,411.2 L218.2,414.2 L219.2,417.3 L220.2,420.7 L221.2,424.3 L222.2,427.9 L223.2,431.5 L224.2,434.9 L225.2,438.2 L226.2,441.4 L227.2,444.5 L228.2,447.6 L229.2,450.7 L230.2,453.7 L231.2,456.6 L232.2,459.3 L233.2,461.7 L234.2,464.0 L235.2,466.1 L236.2,468.1 L237.2,469.8 L238.2,471.5 L239.2,473.0 L240.2,474.4 L241.2,475.7 L242.2,476.8 L243.2,477.8 L244.2,478.7 L245.2,479.6 L246.2,480.3 L247.2,481.0 L248.2,481.7 L249.2,482.3 L250.2,482.8 L251.2,483.2 L252.2,483.6 L253.2,483.9 L254.2,484.2 L255.2,484.4 L256.2,484.6 L257.2,484.8 L258.2,485.0 L259.2,485.2 L260.2,485.3 L261.2,485.4 L262.2,485.5 L263.2,485.6 L264.2,485.7 L265.2,485.7 L266.2,485.8 L267.2,485.8 L268.2,485.8 L269.2,485.8 L270.2,485.8 L271.2,485.7 L272.2,485.7 L273.2,485.7 L274.2,485.6 L275.2,485.6 L276.2,485.5 L277.2,485.5 L278.2,485.4 L279.2,485.3 L280.2,485.2 L281.2,485.1 L282.2,485.0 L283.2,484.8 L284.2,484.7 L285.2,484.6 L286.2,484.5 L287.2,484.4 L288.2,484.2 L289.2,484.1 L290.2,484.0 L291.2,483.8 L292.2,483.7 L293.2,483.6 L294.2,483.4 L295.2,483.3 L296.2,483.1 L297.2,482.9 L298.2,482.8 L299.2,482.6 L300.2,482.4 L301.2,482.3 L302.2,482.1 L303.2,481.9 L304.2,481.7 L305.2,481.5 L306.2,481.3 L307.2,481.1 L308.2,480.9 L309.2,480.7 L310.2,480.5 L311.2,480.3 L312.2,480.1 L313.2,479.9 L314.2,479.6 L315.2,479.4 L316.2,479.2 L317.2,478.9 L318.2,478.7 L319.2,478.5 L320.2,478.2 L321.2,477.9 L322.2,477.7 L323.2,477.4 L324.2,477.2 L325.2,476.9 L326.2,476.6 L327.2,476.3 L328.2,476.1 L329.2,475.8 L330.2,475.5 L331.2,475.2 L332.2,475.0 L333.2,474.7 L334.2,474.4 L335.2,474.1 L336.2,473.9 L337.2,473.6 L338.2,473.3 L339.2,473.0 L340.2,472.7 L341.2,472.4 L342.2,472.2 L343.2,471.9 L344.2,471.6 L345.2,471.3 L346.2,471.0 L347.2,470.7 L348.2,470.4 L349.2,470.1 L350.2,469.8 L351.2,469.5 L352.2,469.3 L353.2,469.0 L354.2,468.7 L355.2,468.4 L356.2,468.1 L357.2,467.8 L358.2,467.4 L359.2,467.1 L360.2,466.8 L361.2,466.5 L362.2,466.2 L363.2,465.9 L364.2,465.6 L365.2,465.3 L366.2,465.0 L367.2,464.7 L368.2,464.4 L369.2,464.1 L370.2,463.8 L371.2,463.5 L372.2,463.2 L373.2,462.9 L374.2,462.6 L375.2,462.3 L376.2,462.0 L377.2,461.7 L378.2,461.5 L379.2,461.2 L380.2,460.9 L381.2,460.6 L382.2,460.3 L383.2,460.0 L384.2,459.7 L385.2,459.4 L386.2,459.1 L387.2,458.8 L388.2,458.5 L389.2,458.2 L390.2,457.9 L391.2,457.6 L392.2,457.3 L393.2,457.1 L394.2,456.8 L395.2,456.5 L396.2,456.2 L397.2,455.9 L398.2,455.6 L399.2,455.3 L400.2,455.0 L401.2,454.7 L402.2,454.4 L403.2,454.1 L404.2,453.8 L405.2,453.5 L406.2,453.2 L407.2,452.9 L408.2,452.6 L409.2,452.3 L410.2,451.9 L411.2,451.6 L412.2,451.3 L413.2,451.0 L414.2,450.7 L415.2,450.4 L416.2,450.0 L417.2,449.7 L418.2,449.4 L419.2,449.1 L420.2,448.7 L421.2,448.4 L422.2,448.1 L423.2,447.8 L424.2,447.4 L425.2,447.1 L426.2,446.8 L427.2,446.4 L428.2,446.1 L429.2,445.8 L430.2,445.5 L431.2,445.1 L432.2,444.8 L433.2,444.5 L434.2,444.2 L435.2,443.8 L436.2,443.5 L437.2,443.2 L438.2,442.9 L439.2,442.6 L440.2,442.2 L441.2,441.9 L442.2,441.6 L443.2,441.3 L444.2,441.0 L445.2,440.6 L446.2,440.3 L447.2,440.0 L448.2,439.6 L449.2,439.3 L450.2,439.0 L451.2,438.6 L452.2,438.3 L453.2,437.9 L454.2,437.6 L455.2,437.2 L456.2,436.8 L457.2,436.5 L458.2,436.1 L459.2,435.7 L460.2,435.3 L461.2,435.0 L462.2,434.6 L463.2,434.2 L464.2,433.9 L465.2,433.5 L466.2,433.2 L467.2,432.9 L468.2,432.5 L469.2,432.2 L470.2,431.9 L471.2,431.6 L472.2,431.3 L473.2,431.0 L474.2,430.8 L475.2,430.5 L476.2,430.2 L477.2,429.9 L478.2,429.7 L479.2,429.4 L480.2,429.1 L481.2,428.8 L482.2,428.6 L483.2,428.3 L484.2,428.0 L485.2,427.8 L486.2,427.5 L487.2,427.2 L488.2,427.0 L489.2,426.7 L490.2,426.4 L491.2,426.1 L492.2,425.9 L493.2,425.6 L494.2,425.3 L495.2,425.0 L496.2,424.7 L497.2,424.4 L498.2,424.2 L499.2,423.9 L500.2,423.6 L501.2,423.3 L502.2,423.0" fill="none" stroke="#3838ff" stroke-width="1.0"/>
<g fill="#fff" stroke="#0000ff" stroke-width="0.6"><path d="M143.20,289.05 l2.40,-4.10 h-4.80 z"/><path d="M145.60,291.81 l2.40,-4.10 h-4.80 z"/><path d="M148.00,294.50 l2.40,-4.10 h-4.80 z"/><path d="M150.40,297.10 l2.40,-4.10 h-4.80 z"/><path d="M151.75,298.52 l2.40,-4.10 h-4.80 z"/><path d="M153.10,299.93 l2.40,-4.10 h-4.80 z"/><path d="M154.45,301.32 l2.40,-4.10 h-4.80 z"/><path d="M155.80,302.68 l2.40,-4.10 h-4.80 z"/><path d="M157.15,304.02 l2.40,-4.10 h-4.80 z"/><path d="M158.50,305.31 l2.40,-4.10 h-4.80 z"/><path d="M159.85,306.56 l2.40,-4.10 h-4.80 z"/><path d="M161.20,307.73 l2.40,-4.10 h-4.80 z"/><path d="M162.55,308.85 l2.40,-4.10 h-4.80 z"/><path d="M163.90,309.96 l2.40,-4.10 h-4.80 z"/><path d="M165.25,311.07 l2.40,-4.10 h-4.80 z"/><path d="M166.60,312.24 l2.40,-4.10 h-4.80 z"/><path d="M169.25,314.74 l2.40,-4.10 h-4.80 z"/><path d="M171.90,317.45 l2.40,-4.10 h-4.80 z"/><path d="M174.55,320.34 l2.40,-4.10 h-4.80 z"/><path d="M177.20,323.39 l2.40,-4.10 h-4.80 z"/><path d="M179.85,326.59 l2.40,-4.10 h-4.80 z"/><path d="M182.50,330.11 l2.40,-4.10 h-4.80 z"/><path d="M185.15,334.13 l2.40,-4.10 h-4.80 z"/><path d="M187.80,338.83 l2.40,-4.10 h-4.80 z"/><path d="M190.45,344.03 l2.40,-4.10 h-4.80 z"/><path d="M193.10,349.61 l2.40,-4.10 h-4.80 z"/><path d="M195.75,355.70 l2.40,-4.10 h-4.80 z"/><path d="M198.40,362.11 l2.40,-4.10 h-4.80 z"/><path d="M201.05,368.68 l2.40,-4.10 h-4.80 z"/><path d="M203.70,375.34 l2.40,-4.10 h-4.80 z"/><path d="M206.35,382.20 l2.40,-4.10 h-4.80 z"/><path d="M209.00,389.33 l2.40,-4.10 h-4.80 z"/><path d="M211.65,396.79 l2.40,-4.10 h-4.80 z"/><path d="M214.30,404.75 l2.40,-4.10 h-4.80 z"/><path d="M216.90,412.33 l2.40,-4.10 h-4.80 z"/><path d="M219.50,420.39 l2.40,-4.10 h-4.80 z"/><path d="M222.10,429.59 l2.40,-4.10 h-4.80 z"/><path d="M224.70,438.57 l2.40,-4.10 h-4.80 z"/><path d="M227.30,446.90 l2.40,-4.10 h-4.80 z"/><path d="M229.90,454.84 l2.40,-4.10 h-4.80 z"/><path d="M232.50,462.05 l2.40,-4.10 h-4.80 z"/><path d="M235.10,467.94 l2.40,-4.10 h-4.80 z"/><path d="M237.70,472.72 l2.40,-4.10 h-4.80 z"/><path d="M240.30,476.58 l2.40,-4.10 h-4.80 z"/><path d="M242.90,479.55 l2.40,-4.10 h-4.80 z"/><path d="M245.50,481.87 l2.40,-4.10 h-4.80 z"/><path d="M248.10,483.69 l2.40,-4.10 h-4.80 z"/><path d="M250.70,485.07 l2.40,-4.10 h-4.80 z"/><path d="M253.30,485.98 l2.40,-4.10 h-4.80 z"/><path d="M255.90,486.63 l2.40,-4.10 h-4.80 z"/><path d="M258.50,487.11 l2.40,-4.10 h-4.80 z"/><path d="M261.10,487.47 l2.40,-4.10 h-4.80 z"/><path d="M263.70,487.69 l2.40,-4.10 h-4.80 z"/><path d="M266.30,487.83 l2.40,-4.10 h-4.80 z"/><path d="M268.90,487.84 l2.40,-4.10 h-4.80 z"/><path d="M271.50,487.78 l2.40,-4.10 h-4.80 z"/><path d="M274.10,487.69 l2.40,-4.10 h-4.80 z"/><path d="M276.70,487.55 l2.40,-4.10 h-4.80 z"/><path d="M279.30,487.32 l2.40,-4.10 h-4.80 z"/><path d="M281.90,487.04 l2.40,-4.10 h-4.80 z"/><path d="M284.50,486.75 l2.40,-4.10 h-4.80 z"/><path d="M287.10,486.44 l2.40,-4.10 h-4.80 z"/><path d="M289.70,486.10 l2.40,-4.10 h-4.80 z"/><path d="M292.30,485.74 l2.40,-4.10 h-4.80 z"/><path d="M294.90,485.35 l2.40,-4.10 h-4.80 z"/><path d="M297.50,484.94 l2.40,-4.10 h-4.80 z"/><path d="M300.10,484.52 l2.40,-4.10 h-4.80 z"/><path d="M302.70,484.06 l2.40,-4.10 h-4.80 z"/><path d="M305.30,483.57 l2.40,-4.10 h-4.80 z"/><path d="M307.90,483.05 l2.40,-4.10 h-4.80 z"/><path d="M310.50,482.50 l2.40,-4.10 h-4.80 z"/><path d="M313.10,481.93 l2.40,-4.10 h-4.80 z"/><path d="M315.70,481.34 l2.40,-4.10 h-4.80 z"/><path d="M318.30,480.73 l2.40,-4.10 h-4.80 z"/><path d="M320.90,480.08 l2.40,-4.10 h-4.80 z"/><path d="M323.50,479.39 l2.40,-4.10 h-4.80 z"/><path d="M326.10,478.69 l2.40,-4.10 h-4.80 z"/><path d="M328.70,477.98 l2.40,-4.10 h-4.80 z"/><path d="M331.30,477.27 l2.40,-4.10 h-4.80 z"/><path d="M333.90,476.55 l2.40,-4.10 h-4.80 z"/><path d="M336.50,475.83 l2.40,-4.10 h-4.80 z"/><path d="M339.10,475.10 l2.40,-4.10 h-4.80 z"/><path d="M341.70,474.36 l2.40,-4.10 h-4.80 z"/><path d="M344.30,473.61 l2.40,-4.10 h-4.80 z"/><path d="M346.90,472.85 l2.40,-4.10 h-4.80 z"/><path d="M349.50,472.10 l2.40,-4.10 h-4.80 z"/><path d="M352.10,471.33 l2.40,-4.10 h-4.80 z"/><path d="M354.70,470.56 l2.40,-4.10 h-4.80 z"/><path d="M357.30,469.77 l2.40,-4.10 h-4.80 z"/><path d="M359.90,468.98 l2.40,-4.10 h-4.80 z"/><path d="M362.50,468.19 l2.40,-4.10 h-4.80 z"/><path d="M365.10,467.40 l2.40,-4.10 h-4.80 z"/><path d="M367.70,466.61 l2.40,-4.10 h-4.80 z"/><path d="M370.30,465.83 l2.40,-4.10 h-4.80 z"/><path d="M372.90,465.06 l2.40,-4.10 h-4.80 z"/><path d="M375.50,464.29 l2.40,-4.10 h-4.80 z"/><path d="M378.10,463.53 l2.40,-4.10 h-4.80 z"/><path d="M380.70,462.78 l2.40,-4.10 h-4.80 z"/><path d="M383.30,462.02 l2.40,-4.10 h-4.80 z"/><path d="M385.90,461.26 l2.40,-4.10 h-4.80 z"/><path d="M388.50,460.49 l2.40,-4.10 h-4.80 z"/><path d="M391.10,459.72 l2.40,-4.10 h-4.80 z"/><path d="M393.70,458.96 l2.40,-4.10 h-4.80 z"/><path d="M396.30,458.19 l2.40,-4.10 h-4.80 z"/><path d="M398.90,457.42 l2.40,-4.10 h-4.80 z"/><path d="M401.50,456.64 l2.40,-4.10 h-4.80 z"/><path d="M404.10,455.86 l2.40,-4.10 h-4.80 z"/><path d="M406.70,455.08 l2.40,-4.10 h-4.80 z"/><path d="M409.30,454.28 l2.40,-4.10 h-4.80 z"/><path d="M411.90,453.47 l2.40,-4.10 h-4.80 z"/><path d="M414.50,452.64 l2.40,-4.10 h-4.80 z"/><path d="M417.10,451.81 l2.40,-4.10 h-4.80 z"/><path d="M419.70,450.96 l2.40,-4.10 h-4.80 z"/><path d="M422.30,450.11 l2.40,-4.10 h-4.80 z"/><path d="M424.90,449.25 l2.40,-4.10 h-4.80 z"/><path d="M427.50,448.39 l2.40,-4.10 h-4.80 z"/><path d="M430.10,447.54 l2.40,-4.10 h-4.80 z"/><path d="M432.70,446.70 l2.40,-4.10 h-4.80 z"/><path d="M435.30,445.86 l2.40,-4.10 h-4.80 z"/><path d="M437.90,445.03 l2.40,-4.10 h-4.80 z"/><path d="M440.50,444.20 l2.40,-4.10 h-4.80 z"/><path d="M443.10,443.37 l2.40,-4.10 h-4.80 z"/><path d="M445.70,442.52 l2.40,-4.10 h-4.80 z"/><path d="M448.30,441.66 l2.40,-4.10 h-4.80 z"/><path d="M450.90,440.78 l2.40,-4.10 h-4.80 z"/><path d="M453.50,439.87 l2.40,-4.10 h-4.80 z"/><path d="M456.10,438.92 l2.40,-4.10 h-4.80 z"/><path d="M458.70,437.94 l2.40,-4.10 h-4.80 z"/><path d="M461.30,436.98 l2.40,-4.10 h-4.80 z"/><path d="M463.90,436.03 l2.40,-4.10 h-4.80 z"/><path d="M466.50,435.14 l2.40,-4.10 h-4.80 z"/><path d="M469.10,434.31 l2.40,-4.10 h-4.80 z"/><path d="M471.70,433.52 l2.40,-4.10 h-4.80 z"/><path d="M474.30,432.78 l2.40,-4.10 h-4.80 z"/><path d="M476.90,432.05 l2.40,-4.10 h-4.80 z"/><path d="M479.50,431.35 l2.40,-4.10 h-4.80 z"/><path d="M482.10,430.66 l2.40,-4.10 h-4.80 z"/><path d="M484.70,429.97 l2.40,-4.10 h-4.80 z"/><path d="M487.30,429.27 l2.40,-4.10 h-4.80 z"/><path d="M489.90,428.56 l2.40,-4.10 h-4.80 z"/><path d="M492.50,427.83 l2.40,-4.10 h-4.80 z"/><path d="M495.10,427.09 l2.40,-4.10 h-4.80 z"/><path d="M497.70,426.36 l2.40,-4.10 h-4.80 z"/><path d="M500.30,425.62 l2.40,-4.10 h-4.80 z"/><path d="M502.90,424.88 l2.40,-4.10 h-4.80 z"/></g>
<path d="M143.2,335.3 L144.2,336.4 L145.2,337.5 L146.2,338.6 L147.2,339.7 L148.2,340.8 L149.2,341.9 L150.2,343.0 L151.2,344.1 L152.2,345.2 L153.2,346.3 L154.2,347.5 L155.2,348.6 L156.2,349.7 L157.2,350.9 L158.2,352.0 L159.2,353.1 L160.2,354.3 L161.2,355.4 L162.2,356.5 L163.2,357.6 L164.2,358.8 L165.2,359.9 L166.2,361.0 L167.2,362.2 L168.2,363.3 L169.2,364.4 L170.2,365.5 L171.2,366.6 L172.2,367.7 L173.2,368.9 L174.2,370.1 L175.2,371.4 L176.2,372.8 L177.2,374.2 L178.2,375.7 L179.2,377.2 L180.2,378.8 L181.2,380.5 L182.2,382.2 L183.2,384.0 L184.2,385.8 L185.2,387.5 L186.2,389.2 L187.2,390.9 L188.2,392.6 L189.2,394.4 L190.2,396.1 L191.2,397.9 L192.2,399.7 L193.2,401.7 L194.2,403.9 L195.2,406.3 L196.2,408.8 L197.2,411.4 L198.2,414.0 L199.2,416.7 L200.2,419.5 L201.2,422.3 L202.2,425.3 L203.2,428.2 L204.2,431.2 L205.2,434.2 L206.2,437.1 L207.2,440.1 L208.2,443.1 L209.2,446.1 L210.2,449.1 L211.2,452.1 L212.2,455.1 L213.2,458.2 L214.2,461.2 L215.2,464.2 L216.2,467.1 L217.2,469.9 L218.2,472.5 L219.2,475.2 L220.2,478.1 L221.2,481.3 L222.2,484.7 L223.2,488.0 L224.2,491.2 L225.2,494.4 L226.2,497.4 L227.2,500.0 L228.2,502.4 L229.2,504.6 L230.2,506.7 L231.2,508.5 L232.2,510.1 L233.2,511.5 L234.2,512.8 L235.2,514.0 L236.2,515.1 L237.2,516.1 L238.2,517.0 L239.2,517.8 L240.2,518.6 L241.2,519.3 L242.2,520.0 L243.2,520.6 L244.2,521.3 L245.2,521.9 L246.2,522.5 L247.2,523.1 L248.2,523.6 L249.2,524.0 L250.2,524.3 L251.2,524.6 L252.2,524.8 L253.2,525.1 L254.2,525.3 L255.2,525.5 L256.2,525.6 L257.2,525.8 L258.2,525.9 L259.2,526.0 L260.2,526.2 L261.2,526.2 L262.2,526.3 L263.2,526.4 L264.2,526.4 L265.2,526.5 L266.2,526.5 L267.2,526.5 L268.2,526.5 L269.2,526.5 L270.2,526.4 L271.2,526.4 L272.2,526.3 L273.2,526.2 L274.2,526.2 L275.2,526.1 L276.2,526.0 L277.2,525.9 L278.2,525.8 L279.2,525.7 L280.2,525.6 L281.2,525.4 L282.2,525.3 L283.2,525.2 L284.2,525.0 L285.2,524.9 L286.2,524.7 L287.2,524.6 L288.2,524.4 L289.2,524.2 L290.2,524.1 L291.2,523.9 L292.2,523.7 L293.2,523.5 L294.2,523.3 L295.2,523.1 L296.2,522.9 L297.2,522.7 L298.2,522.5 L299.2,522.3 L300.2,522.1 L301.2,521.9 L302.2,521.7 L303.2,521.5 L304.2,521.3 L305.2,521.1 L306.2,520.9 L307.2,520.7 L308.2,520.4 L309.2,520.2 L310.2,520.0 L311.2,519.8 L312.2,519.5 L313.2,519.3 L314.2,519.1 L315.2,518.8 L316.2,518.6 L317.2,518.3 L318.2,518.1 L319.2,517.8 L320.2,517.6 L321.2,517.3 L322.2,517.1 L323.2,516.8 L324.2,516.5 L325.2,516.2 L326.2,516.0 L327.2,515.7 L328.2,515.4 L329.2,515.1 L330.2,514.8 L331.2,514.5 L332.2,514.2 L333.2,513.9 L334.2,513.6 L335.2,513.3 L336.2,513.0 L337.2,512.7 L338.2,512.3 L339.2,512.0 L340.2,511.7 L341.2,511.3 L342.2,511.0 L343.2,510.7 L344.2,510.3 L345.2,510.0 L346.2,509.7 L347.2,509.3 L348.2,509.0 L349.2,508.7 L350.2,508.3 L351.2,508.0 L352.2,507.7 L353.2,507.4 L354.2,507.0 L355.2,506.7 L356.2,506.4 L357.2,506.1 L358.2,505.7 L359.2,505.4 L360.2,505.1 L361.2,504.8 L362.2,504.4 L363.2,504.1 L364.2,503.8 L365.2,503.5 L366.2,503.1 L367.2,502.8 L368.2,502.5 L369.2,502.2 L370.2,501.8 L371.2,501.5 L372.2,501.2 L373.2,500.8 L374.2,500.5 L375.2,500.2 L376.2,499.9 L377.2,499.5 L378.2,499.2 L379.2,498.9 L380.2,498.5 L381.2,498.2 L382.2,497.9 L383.2,497.6 L384.2,497.2 L385.2,496.9 L386.2,496.6 L387.2,496.2 L388.2,495.9 L389.2,495.6 L390.2,495.2 L391.2,494.9 L392.2,494.6 L393.2,494.2 L394.2,493.9 L395.2,493.5 L396.2,493.2 L397.2,492.9 L398.2,492.5 L399.2,492.2 L400.2,491.8 L401.2,491.5 L402.2,491.2 L403.2,490.8 L404.2,490.5 L405.2,490.1 L406.2,489.8 L407.2,489.5 L408.2,489.1 L409.2,488.8 L410.2,488.5 L411.2,488.1 L412.2,487.8 L413.2,487.5 L414.2,487.2 L415.2,486.8 L416.2,486.5 L417.2,486.2 L418.2,485.9 L419.2,485.6 L420.2,485.2 L421.2,484.9 L422.2,484.6 L423.2,484.3 L424.2,484.0 L425.2,483.7 L426.2,483.3 L427.2,483.0 L428.2,482.7 L429.2,482.4 L430.2,482.1 L431.2,481.7 L432.2,481.4 L433.2,481.1 L434.2,480.8 L435.2,480.4 L436.2,480.1 L437.2,479.8 L438.2,479.5 L439.2,479.1 L440.2,478.8 L441.2,478.5 L442.2,478.2 L443.2,477.8 L444.2,477.5 L445.2,477.2 L446.2,476.8 L447.2,476.5 L448.2,476.2 L449.2,475.9 L450.2,475.6 L451.2,475.2 L452.2,474.9 L453.2,474.6 L454.2,474.3 L455.2,474.0 L456.2,473.7 L457.2,473.3 L458.2,473.0 L459.2,472.7 L460.2,472.4 L461.2,472.1 L462.2,471.8 L463.2,471.5 L464.2,471.1 L465.2,470.8 L466.2,470.5 L467.2,470.2 L468.2,469.9 L469.2,469.6 L470.2,469.3 L471.2,468.9 L472.2,468.6 L473.2,468.3 L474.2,468.0 L475.2,467.7 L476.2,467.3 L477.2,467.0 L478.2,466.7 L479.2,466.4 L480.2,466.1 L481.2,465.7 L482.2,465.4 L483.2,465.1 L484.2,464.8 L485.2,464.5 L486.2,464.1 L487.2,463.8 L488.2,463.5 L489.2,463.2 L490.2,462.9 L491.2,462.5 L492.2,462.2 L493.2,461.9 L494.2,461.6 L495.2,461.2 L496.2,460.9 L497.2,460.6 L498.2,460.3 L499.2,459.9 L500.2,459.6 L501.2,459.3 L502.2,459.0" fill="none" stroke="#58ffff" stroke-width="1.2"/>
<g fill="#00ffff" stroke="none"><path d="M143.20,332.00 l3.30,3.30 l-3.30,3.30 l-3.30,-3.30 z"/><path d="M144.10,332.98 l3.30,3.30 l-3.30,3.30 l-3.30,-3.30 z"/><path d="M145.00,333.96 l3.30,3.30 l-3.30,3.30 l-3.30,-3.30 z"/><path d="M145.90,334.95 l3.30,3.30 l-3.30,3.30 l-3.30,-3.30 z"/><path d="M146.80,335.94 l3.30,3.30 l-3.30,3.30 l-3.30,-3.30 z"/><path d="M147.70,336.93 l3.30,3.30 l-3.30,3.30 l-3.30,-3.30 z"/><path d="M148.60,337.92 l3.30,3.30 l-3.30,3.30 l-3.30,-3.30 z"/><path d="M149.50,338.92 l3.30,3.30 l-3.30,3.30 l-3.30,-3.30 z"/><path d="M150.40,339.92 l3.30,3.30 l-3.30,3.30 l-3.30,-3.30 z"/><path d="M151.30,340.92 l3.30,3.30 l-3.30,3.30 l-3.30,-3.30 z"/><path d="M152.20,341.92 l3.30,3.30 l-3.30,3.30 l-3.30,-3.30 z"/><path d="M153.10,342.93 l3.30,3.30 l-3.30,3.30 l-3.30,-3.30 z"/><path d="M154.00,343.94 l3.30,3.30 l-3.30,3.30 l-3.30,-3.30 z"/><path d="M154.90,344.96 l3.30,3.30 l-3.30,3.30 l-3.30,-3.30 z"/><path d="M155.80,345.98 l3.30,3.30 l-3.30,3.30 l-3.30,-3.30 z"/><path d="M156.70,347.00 l3.30,3.30 l-3.30,3.30 l-3.30,-3.30 z"/><path d="M157.60,348.02 l3.30,3.30 l-3.30,3.30 l-3.30,-3.30 z"/><path d="M158.50,349.04 l3.30,3.30 l-3.30,3.30 l-3.30,-3.30 z"/><path d="M159.40,350.06 l3.30,3.30 l-3.30,3.30 l-3.30,-3.30 z"/><path d="M160.30,351.07 l3.30,3.30 l-3.30,3.30 l-3.30,-3.30 z"/><path d="M161.20,352.09 l3.30,3.30 l-3.30,3.30 l-3.30,-3.30 z"/><path d="M162.10,353.10 l3.30,3.30 l-3.30,3.30 l-3.30,-3.30 z"/><path d="M163.00,354.12 l3.30,3.30 l-3.30,3.30 l-3.30,-3.30 z"/><path d="M163.90,355.13 l3.30,3.30 l-3.30,3.30 l-3.30,-3.30 z"/><path d="M164.80,356.14 l3.30,3.30 l-3.30,3.30 l-3.30,-3.30 z"/><path d="M165.70,357.16 l3.30,3.30 l-3.30,3.30 l-3.30,-3.30 z"/><path d="M166.60,358.18 l3.30,3.30 l-3.30,3.30 l-3.30,-3.30 z"/><path d="M167.50,359.20 l3.30,3.30 l-3.30,3.30 l-3.30,-3.30 z"/><path d="M168.40,360.21 l3.30,3.30 l-3.30,3.30 l-3.30,-3.30 z"/><path d="M169.30,361.21 l3.30,3.30 l-3.30,3.30 l-3.30,-3.30 z"/><path d="M170.20,362.20 l3.30,3.30 l-3.30,3.30 l-3.30,-3.30 z"/><path d="M171.10,363.20 l3.30,3.30 l-3.30,3.30 l-3.30,-3.30 z"/><path d="M172.00,364.22 l3.30,3.30 l-3.30,3.30 l-3.30,-3.30 z"/><path d="M172.90,365.26 l3.30,3.30 l-3.30,3.30 l-3.30,-3.30 z"/><path d="M173.80,366.34 l3.30,3.30 l-3.30,3.30 l-3.30,-3.30 z"/><path d="M174.70,367.47 l3.30,3.30 l-3.30,3.30 l-3.30,-3.30 z"/><path d="M175.60,368.66 l3.30,3.30 l-3.30,3.30 l-3.30,-3.30 z"/><path d="M176.76,370.28 l3.30,3.30 l-3.30,3.30 l-3.30,-3.30 z"/><path d="M178.27,372.51 l3.30,3.30 l-3.30,3.30 l-3.30,-3.30 z"/><path d="M180.26,375.62 l3.30,3.30 l-3.30,3.30 l-3.30,-3.30 z"/><path d="M182.76,379.94 l3.30,3.30 l-3.30,3.30 l-3.30,-3.30 z"/><path d="M185.26,384.35 l3.30,3.30 l-3.30,3.30 l-3.30,-3.30 z"/><path d="M187.76,388.56 l3.30,3.30 l-3.30,3.30 l-3.30,-3.30 z"/><path d="M190.26,392.90 l3.30,3.30 l-3.30,3.30 l-3.30,-3.30 z"/><path d="M192.76,397.51 l3.30,3.30 l-3.30,3.30 l-3.30,-3.30 z"/><path d="M195.26,403.13 l3.30,3.30 l-3.30,3.30 l-3.30,-3.30 z"/><path d="M197.76,409.55 l3.30,3.30 l-3.30,3.30 l-3.30,-3.30 z"/><path d="M200.26,416.33 l3.30,3.30 l-3.30,3.30 l-3.30,-3.30 z"/><path d="M202.76,423.64 l3.30,3.30 l-3.30,3.30 l-3.30,-3.30 z"/><path d="M205.26,431.04 l3.30,3.30 l-3.30,3.30 l-3.30,-3.30 z"/><path d="M207.76,438.50 l3.30,3.30 l-3.30,3.30 l-3.30,-3.30 z"/><path d="M210.26,445.99 l3.30,3.30 l-3.30,3.30 l-3.30,-3.30 z"/><path d="M212.76,453.53 l3.30,3.30 l-3.30,3.30 l-3.30,-3.30 z"/><path d="M215.26,461.03 l3.30,3.30 l-3.30,3.30 l-3.30,-3.30 z"/><path d="M217.76,468.09 l3.30,3.30 l-3.30,3.30 l-3.30,-3.30 z"/><path d="M220.26,474.99 l3.30,3.30 l-3.30,3.30 l-3.30,-3.30 z"/><path d="M222.76,483.30 l3.30,3.30 l-3.30,3.30 l-3.30,-3.30 z"/><path d="M225.26,491.27 l3.30,3.30 l-3.30,3.30 l-3.30,-3.30 z"/><path d="M227.76,498.07 l3.30,3.30 l-3.30,3.30 l-3.30,-3.30 z"/><path d="M230.26,503.51 l3.30,3.30 l-3.30,3.30 l-3.30,-3.30 z"/><path d="M232.76,507.61 l3.30,3.30 l-3.30,3.30 l-3.30,-3.30 z"/><path d="M235.26,510.79 l3.30,3.30 l-3.30,3.30 l-3.30,-3.30 z"/><path d="M237.76,513.28 l3.30,3.30 l-3.30,3.30 l-3.30,-3.30 z"/><path d="M240.26,515.31 l3.30,3.30 l-3.30,3.30 l-3.30,-3.30 z"/><path d="M242.76,517.04 l3.30,3.30 l-3.30,3.30 l-3.30,-3.30 z"/><path d="M245.26,518.66 l3.30,3.30 l-3.30,3.30 l-3.30,-3.30 z"/><path d="M247.76,520.07 l3.30,3.30 l-3.30,3.30 l-3.30,-3.30 z"/><path d="M250.26,521.01 l3.30,3.30 l-3.30,3.30 l-3.30,-3.30 z"/><path d="M252.76,521.68 l3.30,3.30 l-3.30,3.30 l-3.30,-3.30 z"/><path d="M255.26,522.18 l3.30,3.30 l-3.30,3.30 l-3.30,-3.30 z"/><path d="M257.76,522.56 l3.30,3.30 l-3.30,3.30 l-3.30,-3.30 z"/><path d="M260.26,522.86 l3.30,3.30 l-3.30,3.30 l-3.30,-3.30 z"/><path d="M262.76,523.04 l3.30,3.30 l-3.30,3.30 l-3.30,-3.30 z"/><path d="M265.26,523.16 l3.30,3.30 l-3.30,3.30 l-3.30,-3.30 z"/><path d="M267.76,523.20 l3.30,3.30 l-3.30,3.30 l-3.30,-3.30 z"/><path d="M270.26,523.12 l3.30,3.30 l-3.30,3.30 l-3.30,-3.30 z"/><path d="M272.76,522.96 l3.30,3.30 l-3.30,3.30 l-3.30,-3.30 z"/><path d="M275.26,522.78 l3.30,3.30 l-3.30,3.30 l-3.30,-3.30 z"/><path d="M277.76,522.55 l3.30,3.30 l-3.30,3.30 l-3.30,-3.30 z"/><path d="M280.26,522.25 l3.30,3.30 l-3.30,3.30 l-3.30,-3.30 z"/><path d="M282.76,521.92 l3.30,3.30 l-3.30,3.30 l-3.30,-3.30 z"/><path d="M285.26,521.56 l3.30,3.30 l-3.30,3.30 l-3.30,-3.30 z"/><path d="M287.76,521.17 l3.30,3.30 l-3.30,3.30 l-3.30,-3.30 z"/><path d="M290.26,520.74 l3.30,3.30 l-3.30,3.30 l-3.30,-3.30 z"/><path d="M292.76,520.29 l3.30,3.30 l-3.30,3.30 l-3.30,-3.30 z"/><path d="M295.26,519.81 l3.30,3.30 l-3.30,3.30 l-3.30,-3.30 z"/><path d="M297.76,519.32 l3.30,3.30 l-3.30,3.30 l-3.30,-3.30 z"/><path d="M300.26,518.83 l3.30,3.30 l-3.30,3.30 l-3.30,-3.30 z"/><path d="M302.76,518.32 l3.30,3.30 l-3.30,3.30 l-3.30,-3.30 z"/><path d="M305.26,517.79 l3.30,3.30 l-3.30,3.30 l-3.30,-3.30 z"/><path d="M307.76,517.25 l3.30,3.30 l-3.30,3.30 l-3.30,-3.30 z"/><path d="M310.26,516.68 l3.30,3.30 l-3.30,3.30 l-3.30,-3.30 z"/><path d="M312.76,516.10 l3.30,3.30 l-3.30,3.30 l-3.30,-3.30 z"/><path d="M315.26,515.50 l3.30,3.30 l-3.30,3.30 l-3.30,-3.30 z"/><path d="M317.76,514.89 l3.30,3.30 l-3.30,3.30 l-3.30,-3.30 z"/><path d="M320.26,514.26 l3.30,3.30 l-3.30,3.30 l-3.30,-3.30 z"/><path d="M322.76,513.60 l3.30,3.30 l-3.30,3.30 l-3.30,-3.30 z"/><path d="M325.26,512.93 l3.30,3.30 l-3.30,3.30 l-3.30,-3.30 z"/><path d="M327.76,512.23 l3.30,3.30 l-3.30,3.30 l-3.30,-3.30 z"/><path d="M330.26,511.52 l3.30,3.30 l-3.30,3.30 l-3.30,-3.30 z"/><path d="M332.76,510.77 l3.30,3.30 l-3.30,3.30 l-3.30,-3.30 z"/><path d="M335.26,509.99 l3.30,3.30 l-3.30,3.30 l-3.30,-3.30 z"/><path d="M337.76,509.19 l3.30,3.30 l-3.30,3.30 l-3.30,-3.30 z"/><path d="M340.26,508.36 l3.30,3.30 l-3.30,3.30 l-3.30,-3.30 z"/><path d="M342.76,507.52 l3.30,3.30 l-3.30,3.30 l-3.30,-3.30 z"/><path d="M345.26,506.67 l3.30,3.30 l-3.30,3.30 l-3.30,-3.30 z"/><path d="M347.76,505.84 l3.30,3.30 l-3.30,3.30 l-3.30,-3.30 z"/><path d="M350.26,505.01 l3.30,3.30 l-3.30,3.30 l-3.30,-3.30 z"/><path d="M352.76,504.20 l3.30,3.30 l-3.30,3.30 l-3.30,-3.30 z"/><path d="M355.26,503.39 l3.30,3.30 l-3.30,3.30 l-3.30,-3.30 z"/><path d="M357.76,502.58 l3.30,3.30 l-3.30,3.30 l-3.30,-3.30 z"/><path d="M360.26,501.77 l3.30,3.30 l-3.30,3.30 l-3.30,-3.30 z"/><path d="M362.76,500.95 l3.30,3.30 l-3.30,3.30 l-3.30,-3.30 z"/><path d="M365.26,500.14 l3.30,3.30 l-3.30,3.30 l-3.30,-3.30 z"/><path d="M367.76,499.33 l3.30,3.30 l-3.30,3.30 l-3.30,-3.30 z"/><path d="M370.26,498.51 l3.30,3.30 l-3.30,3.30 l-3.30,-3.30 z"/><path d="M372.76,497.69 l3.30,3.30 l-3.30,3.30 l-3.30,-3.30 z"/><path d="M375.26,496.87 l3.30,3.30 l-3.30,3.30 l-3.30,-3.30 z"/><path d="M377.76,496.05 l3.30,3.30 l-3.30,3.30 l-3.30,-3.30 z"/><path d="M380.26,495.23 l3.30,3.30 l-3.30,3.30 l-3.30,-3.30 z"/><path d="M382.76,494.40 l3.30,3.30 l-3.30,3.30 l-3.30,-3.30 z"/><path d="M385.26,493.58 l3.30,3.30 l-3.30,3.30 l-3.30,-3.30 z"/><path d="M387.76,492.75 l3.30,3.30 l-3.30,3.30 l-3.30,-3.30 z"/><path d="M390.26,491.91 l3.30,3.30 l-3.30,3.30 l-3.30,-3.30 z"/><path d="M392.76,491.07 l3.30,3.30 l-3.30,3.30 l-3.30,-3.30 z"/><path d="M395.26,490.22 l3.30,3.30 l-3.30,3.30 l-3.30,-3.30 z"/><path d="M397.76,489.37 l3.30,3.30 l-3.30,3.30 l-3.30,-3.30 z"/><path d="M400.26,488.52 l3.30,3.30 l-3.30,3.30 l-3.30,-3.30 z"/><path d="M402.76,487.67 l3.30,3.30 l-3.30,3.30 l-3.30,-3.30 z"/><path d="M405.26,486.82 l3.30,3.30 l-3.30,3.30 l-3.30,-3.30 z"/><path d="M407.76,485.97 l3.30,3.30 l-3.30,3.30 l-3.30,-3.30 z"/><path d="M410.26,485.14 l3.30,3.30 l-3.30,3.30 l-3.30,-3.30 z"/><path d="M412.76,484.32 l3.30,3.30 l-3.30,3.30 l-3.30,-3.30 z"/><path d="M415.26,483.52 l3.30,3.30 l-3.30,3.30 l-3.30,-3.30 z"/><path d="M417.76,482.71 l3.30,3.30 l-3.30,3.30 l-3.30,-3.30 z"/><path d="M420.26,481.92 l3.30,3.30 l-3.30,3.30 l-3.30,-3.30 z"/><path d="M422.76,481.13 l3.30,3.30 l-3.30,3.30 l-3.30,-3.30 z"/><path d="M425.26,480.33 l3.30,3.30 l-3.30,3.30 l-3.30,-3.30 z"/><path d="M427.76,479.54 l3.30,3.30 l-3.30,3.30 l-3.30,-3.30 z"/><path d="M430.26,478.74 l3.30,3.30 l-3.30,3.30 l-3.30,-3.30 z"/><path d="M432.76,477.93 l3.30,3.30 l-3.30,3.30 l-3.30,-3.30 z"/><path d="M435.26,477.12 l3.30,3.30 l-3.30,3.30 l-3.30,-3.30 z"/><path d="M437.76,476.30 l3.30,3.30 l-3.30,3.30 l-3.30,-3.30 z"/><path d="M440.26,475.49 l3.30,3.30 l-3.30,3.30 l-3.30,-3.30 z"/><path d="M442.76,474.67 l3.30,3.30 l-3.30,3.30 l-3.30,-3.30 z"/><path d="M445.26,473.85 l3.30,3.30 l-3.30,3.30 l-3.30,-3.30 z"/><path d="M447.76,473.04 l3.30,3.30 l-3.30,3.30 l-3.30,-3.30 z"/><path d="M450.26,472.24 l3.30,3.30 l-3.30,3.30 l-3.30,-3.30 z"/><path d="M452.76,471.44 l3.30,3.30 l-3.30,3.30 l-3.30,-3.30 z"/><path d="M455.26,470.65 l3.30,3.30 l-3.30,3.30 l-3.30,-3.30 z"/><path d="M457.76,469.86 l3.30,3.30 l-3.30,3.30 l-3.30,-3.30 z"/><path d="M460.26,469.08 l3.30,3.30 l-3.30,3.30 l-3.30,-3.30 z"/><path d="M462.76,468.29 l3.30,3.30 l-3.30,3.30 l-3.30,-3.30 z"/><path d="M465.26,467.51 l3.30,3.30 l-3.30,3.30 l-3.30,-3.30 z"/><path d="M467.76,466.72 l3.30,3.30 l-3.30,3.30 l-3.30,-3.30 z"/><path d="M470.26,465.93 l3.30,3.30 l-3.30,3.30 l-3.30,-3.30 z"/><path d="M472.76,465.14 l3.30,3.30 l-3.30,3.30 l-3.30,-3.30 z"/><path d="M475.26,464.34 l3.30,3.30 l-3.30,3.30 l-3.30,-3.30 z"/><path d="M477.76,463.55 l3.30,3.30 l-3.30,3.30 l-3.30,-3.30 z"/><path d="M480.26,462.75 l3.30,3.30 l-3.30,3.30 l-3.30,-3.30 z"/><path d="M482.76,461.95 l3.30,3.30 l-3.30,3.30 l-3.30,-3.30 z"/><path d="M485.26,461.15 l3.30,3.30 l-3.30,3.30 l-3.30,-3.30 z"/><path d="M487.76,460.34 l3.30,3.30 l-3.30,3.30 l-3.30,-3.30 z"/><path d="M490.26,459.54 l3.30,3.30 l-3.30,3.30 l-3.30,-3.30 z"/><path d="M492.76,458.73 l3.30,3.30 l-3.30,3.30 l-3.30,-3.30 z"/><path d="M495.26,457.92 l3.30,3.30 l-3.30,3.30 l-3.30,-3.30 z"/><path d="M497.76,457.11 l3.30,3.30 l-3.30,3.30 l-3.30,-3.30 z"/><path d="M500.26,456.29 l3.30,3.30 l-3.30,3.30 l-3.30,-3.30 z"/><path d="M502.76,455.48 l3.30,3.30 l-3.30,3.30 l-3.30,-3.30 z"/></g>
<path d="M111.0,216.2 V556.2 M111.0,216.2 H492 M111.0,556.2 H492" stroke="#000" stroke-width="1.6" fill="none" stroke-linecap="square"/>
<path d="M141.0,556.2 v-7.0 M141.0,216.2 v7.0 M201.3,556.2 v-3.5 M201.3,216.2 v3.5 M261.6,556.2 v-7.0 M261.6,216.2 v7.0 M321.9,556.2 v-3.5 M321.9,216.2 v3.5 M382.2,556.2 v-7.0 M382.2,216.2 v7.0 M442.6,556.2 v-3.5 M442.6,216.2 v3.5 M502.9,556.2 v-7.0 M502.9,216.2 v7.0 M111.0,535.0 h7.0 M111.0,492.5 h3.5 M111.0,450.0 h7.0 M111.0,407.5 h3.5 M111.0,365.0 h7.0 M111.0,322.5 h3.5 M111.0,280.0 h7.0 M111.0,237.5 h3.5" stroke="#000" stroke-width="1.5" fill="none"/>
<text x="103.4" y="540.0" font-family="Liberation Sans, sans-serif" stroke="#000" stroke-width="0.22" font-size="16" text-anchor="end">0.12</text>
<text x="103.4" y="455.0" font-family="Liberation Sans, sans-serif" stroke="#000" stroke-width="0.22" font-size="16" text-anchor="end">0.14</text>
<text x="103.4" y="370.0" font-family="Liberation Sans, sans-serif" stroke="#000" stroke-width="0.22" font-size="16" text-anchor="end">0.16</text>
<text x="103.4" y="285.0" font-family="Liberation Sans, sans-serif" stroke="#000" stroke-width="0.22" font-size="16" text-anchor="end">0.18</text>
<text x="141.0" y="575.7" font-family="Liberation Sans, sans-serif" stroke="#000" stroke-width="0.22" font-size="16" text-anchor="middle">0</text>
<text x="261.6" y="575.7" font-family="Liberation Sans, sans-serif" stroke="#000" stroke-width="0.22" font-size="16" text-anchor="middle">100</text>
<text x="382.2" y="575.7" font-family="Liberation Sans, sans-serif" stroke="#000" stroke-width="0.22" font-size="16" text-anchor="middle">200</text>
<text x="502.9" y="575.7" font-family="Liberation Sans, sans-serif" stroke="#000" stroke-width="0.22" font-size="16" text-anchor="middle">300</text>
<text x="322.7" y="604" font-family="Liberation Sans, sans-serif" stroke="#000" stroke-width="0.22" font-size="17.6" text-anchor="middle">T (K)</text>
<text transform="translate(45.8,389.7) rotate(-90)" font-family="Liberation Sans, sans-serif" stroke="#000" stroke-width="0.22" font-size="17" text-anchor="middle">R (Ω)</text>
<text x="180" y="243.8" font-family="Liberation Sans, sans-serif" stroke="#000" stroke-width="0.22" font-size="16">BaFe<tspan font-size="10" dy="7.2">2</tspan><tspan dy="-7.2">As</tspan><tspan font-size="10" dy="7.2">2</tspan></text>
<text x="476.1" y="527.7" font-family="Liberation Sans, sans-serif" stroke="#000" stroke-width="0.22" font-size="16.6">(a</text>
<path d="M127.7,475.9 H155.1" stroke="#000" stroke-width="1.5"/>
<text x="158.3" y="480.4" font-family="Liberation Sans, sans-serif" stroke="#000" stroke-width="0.22" font-size="11.9">P=0</text>
<path d="M127.7,490.2 H155.1" stroke="#ff4848" stroke-width="1.0"/>
<circle cx="141.5" cy="490.2" r="2.15" fill="#fff" stroke="#f00" stroke-width="0.75"/>
<text x="158.3" y="494.7" font-family="Liberation Sans, sans-serif" stroke="#000" stroke-width="0.22" font-size="11.9">5.6 kbar</text>
<path d="M127.7,504.6 H155.1" stroke="#48ff48" stroke-width="1.0"/>
<path d="M141.50,501.65 l3.1,4.9 h-6.2 z" fill="#0f0"/>
<text x="158.3" y="509.1" font-family="Liberation Sans, sans-serif" stroke="#000" stroke-width="0.22" font-size="11.9">9.3 kbar</text>
<path d="M127.7,519.2 H155.1" stroke="#3838ff" stroke-width="1.0"/>
<path d="M141.50,522.30 l2.4,-4.1 h-4.8 z" fill="#fff" stroke="#00f" stroke-width="0.7"/>
<text x="158.3" y="523.7" font-family="Liberation Sans, sans-serif" stroke="#000" stroke-width="0.22" font-size="11.9">15.3 kbar</text>
<path d="M127.7,534.0 H155.1" stroke="#58ffff" stroke-width="1.3"/>
<path d="M141.5,530.7 l3.3,3.3 l-3.3,3.3 l-3.3,-3.3 z" fill="#0ff"/>
<text x="158.3" y="538.5" font-family="Liberation Sans, sans-serif" stroke="#000" stroke-width="0.22" font-size="11.9">20.1 kbar</text>
<rect x="327.6" y="228.5" width="155.4" height="134.9" fill="#fff" stroke="#000" stroke-width="1.2"/>
<path d="M340.7,363.4 v-3.1 M340.7,228.5 v3.1 M356.8,363.4 v-1.7 M356.8,228.5 v1.7 M372.9,363.4 v-3.1 M372.9,228.5 v3.1 M389.0,363.4 v-1.7 M389.0,228.5 v1.7 M405.1,363.4 v-3.1 M405.1,228.5 v3.1 M421.2,363.4 v-1.7 M421.2,228.5 v1.7 M437.3,363.4 v-3.1 M437.3,228.5 v3.1 M453.4,363.4 v-1.7 M453.4,228.5 v1.7 M469.5,363.4 v-3.1 M469.5,228.5 v3.1 M327.6,363.7 h3.1 M483.0,363.7 h-3.1 M327.6,346.8 h1.7 M483.0,346.8 h-1.7 M327.6,329.9 h3.1 M483.0,329.9 h-3.1 M327.6,313.0 h1.7 M483.0,313.0 h-1.7 M327.6,296.1 h3.1 M483.0,296.1 h-3.1 M327.6,279.2 h1.7 M483.0,279.2 h-1.7 M327.6,262.3 h3.1 M483.0,262.3 h-3.1 M327.6,245.4 h1.7 M483.0,245.4 h-1.7 M327.6,228.5 h3.1 M483.0,228.5 h-3.1" stroke="#000" stroke-width="1" fill="none"/>
<text x="340.7" y="375.6" font-family="Liberation Sans, sans-serif" stroke="#000" stroke-width="0.22" font-size="10.7" text-anchor="middle">0</text>
<text x="372.9" y="375.6" font-family="Liberation Sans, sans-serif" stroke="#000" stroke-width="0.22" font-size="10.7" text-anchor="middle">5</text>
<text x="405.1" y="375.6" font-family="Liberation Sans, sans-serif" stroke="#000" stroke-width="0.22" font-size="10.7" text-anchor="middle">10</text>
<text x="437.3" y="375.6" font-family="Liberation Sans, sans-serif" stroke="#000" stroke-width="0.22" font-size="10.7" text-anchor="middle">15</text>
<text x="469.5" y="375.6" font-family="Liberation Sans, sans-serif" stroke="#000" stroke-width="0.22" font-size="10.7" text-anchor="middle">20</text>
<text x="325.0" y="366.6" font-family="Liberation Sans, sans-serif" stroke="#000" stroke-width="0.22" font-size="10.7" text-anchor="end">50</text>
<text x="325.0" y="332.8" font-family="Liberation Sans, sans-serif" stroke="#000" stroke-width="0.22" font-size="10.7" text-anchor="end">60</text>
<text x="325.0" y="299.0" font-family="Liberation Sans, sans-serif" stroke="#000" stroke-width="0.22" font-size="10.7" text-anchor="end">70</text>
<text x="325.0" y="265.2" font-family="Liberation Sans, sans-serif" stroke="#000" stroke-width="0.22" font-size="10.7" text-anchor="end">80</text>
<text x="325.0" y="231.4" font-family="Liberation Sans, sans-serif" stroke="#000" stroke-width="0.22" font-size="10.7" text-anchor="end">90</text>
<text x="405.5" y="392.7" font-family="Liberation Sans, sans-serif" stroke="#000" stroke-width="0.22" font-size="10.3" text-anchor="middle">P (kbar)</text>
<text transform="translate(306.9,302.8) rotate(-90)" font-family="Liberation Sans, sans-serif" stroke="#000" stroke-width="0.22" font-size="10.5" text-anchor="middle">T (K)</text>
<path d="M340.7,243.4 L470.1,314.7" stroke="#000" stroke-width="1" stroke-dasharray="4,3" fill="none"/>
<path d="M340.7,280.6 L470.1,342.1" stroke="#f00" stroke-width="1" stroke-dasharray="4,3" fill="none"/>
<rect x="338.6" y="240.6" width="4.2" height="4.2" fill="#000"/>
<rect x="374.7" y="262.6" width="4.2" height="4.2" fill="#000"/>
<rect x="398.5" y="277.8" width="4.2" height="4.2" fill="#000"/>
<rect x="437.1" y="295.0" width="4.2" height="4.2" fill="#000"/>
<rect x="468.0" y="312.3" width="4.2" height="4.2" fill="#000"/>
<circle cx="340.7" cy="279.9" r="2.45" fill="#f00"/>
<circle cx="376.8" cy="299.8" r="2.45" fill="#f00"/>
<circle cx="400.6" cy="314.0" r="2.45" fill="#f00"/>
<circle cx="439.2" cy="327.2" r="2.45" fill="#f00"/>
<circle cx="470.1" cy="341.7" r="2.45" fill="#f00"/>
<text x="410" y="269.1" font-family="Liberation Sans, sans-serif" stroke="#000" stroke-width="0.22" font-size="14.5" style="stroke-width:0.08">T<tspan font-size="8.8" dy="5.5">a</tspan></text>
<text x="370" y="328.2" font-family="Liberation Sans, sans-serif" stroke="#000" stroke-width="0.22" font-size="14.5" fill="#f00" style="stroke:#f00;stroke-width:0.08">T<tspan font-size="8.8" dy="5.5">b</tspan></text>
</svg>
</body></html>
